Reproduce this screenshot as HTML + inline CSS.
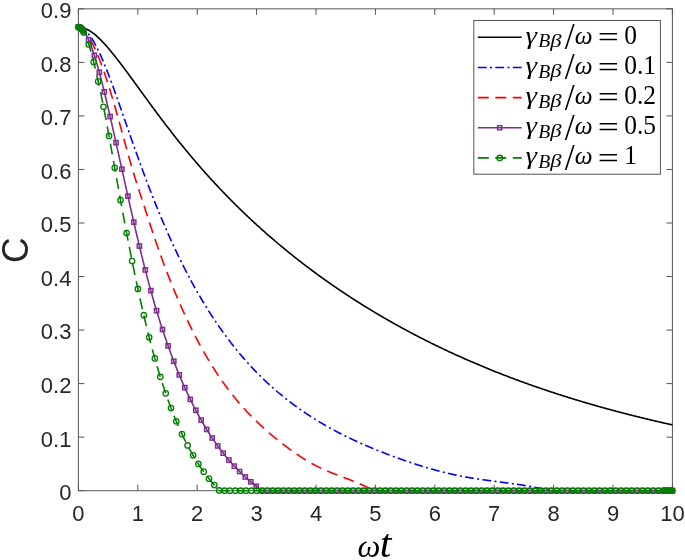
<!DOCTYPE html>
<html><head><meta charset="utf-8"><title>C vs ωt</title><style>html,body{margin:0;padding:0;background:#fff;overflow:hidden}svg{display:block}</style></head><body>
<svg width="685" height="560" viewBox="0 0 685 560">
<rect width="685" height="560" fill="#fff"/>
<rect x="78.4" y="8.84" width="594.00" height="481.86" fill="none" stroke="#555" stroke-width="1"/>
<path d="M78.40,490.7 v-6 M78.40,8.84 v6 M137.80,490.7 v-6 M137.80,8.84 v6 M197.20,490.7 v-6 M197.20,8.84 v6 M256.60,490.7 v-6 M256.60,8.84 v6 M316.00,490.7 v-6 M316.00,8.84 v6 M375.40,490.7 v-6 M375.40,8.84 v6 M434.80,490.7 v-6 M434.80,8.84 v6 M494.20,490.7 v-6 M494.20,8.84 v6 M553.60,490.7 v-6 M553.60,8.84 v6 M613.00,490.7 v-6 M613.00,8.84 v6 M672.40,490.7 v-6 M672.40,8.84 v6 M78.4,490.70 h6 M672.4,490.70 h-6 M78.4,437.16 h6 M672.4,437.16 h-6 M78.4,383.62 h6 M672.4,383.62 h-6 M78.4,330.08 h6 M672.4,330.08 h-6 M78.4,276.54 h6 M672.4,276.54 h-6 M78.4,223.00 h6 M672.4,223.00 h-6 M78.4,169.46 h6 M672.4,169.46 h-6 M78.4,115.92 h6 M672.4,115.92 h-6 M78.4,62.38 h6 M672.4,62.38 h-6 M78.4,8.84 h6 M672.4,8.84 h-6" stroke="#555" stroke-width="1" fill="none"/>
<path d="M78.40,27.04 L78.99,27.06 L79.59,27.09 L80.18,27.15 L80.78,27.23 L81.37,27.33 L81.96,27.45 L82.56,27.60 L83.15,27.76 L83.75,27.95 L84.34,28.15 L84.93,28.38 L85.53,28.62 L86.12,28.88 L86.72,29.16 L87.31,29.45 L87.90,29.77 L88.50,30.09 L89.09,30.44 L89.69,30.80 L90.28,31.18 L90.87,31.57 L91.47,31.97 L92.06,32.39 L92.66,32.83 L93.25,33.27 L93.84,33.74 L94.44,34.21 L95.03,34.69 L95.63,35.19 L96.22,35.70 L96.81,36.22 L97.41,36.76 L98.00,37.30 L98.60,37.85 L99.19,38.42 L99.78,38.99 L100.38,39.58 L100.97,40.17 L101.57,40.77 L102.16,41.39 L102.75,42.01 L103.35,42.64 L103.94,43.27 L104.54,43.92 L105.13,44.57 L105.72,45.23 L106.32,45.90 L106.91,46.57 L107.51,47.25 L108.10,47.94 L108.69,48.63 L109.29,49.33 L109.88,50.04 L110.48,50.75 L111.07,51.47 L111.66,52.19 L112.26,52.91 L112.85,53.65 L113.45,54.38 L114.04,55.13 L114.63,55.87 L115.23,56.62 L115.82,57.38 L116.42,58.13 L117.01,58.90 L117.60,59.66 L118.20,60.43 L118.79,61.20 L119.39,61.98 L119.98,62.76 L120.57,63.54 L121.17,64.32 L121.76,65.11 L122.36,65.90 L122.95,66.69 L123.54,67.48 L124.14,68.28 L124.73,69.08 L125.33,69.88 L125.92,70.68 L126.51,71.48 L127.11,72.29 L127.70,73.09 L128.30,73.90 L128.89,74.71 L129.48,75.52 L130.08,76.33 L130.67,77.14 L131.27,77.96 L131.86,78.77 L132.45,79.59 L133.05,80.40 L133.64,81.22 L134.24,82.04 L134.83,82.85 L135.42,83.67 L136.02,84.49 L136.61,85.31 L137.21,86.13 L137.80,86.94 L138.39,87.76 L138.99,88.58 L139.58,89.40 L140.18,90.22 L140.77,91.04 L141.36,91.86 L141.96,92.67 L142.55,93.49 L143.15,94.31 L143.74,95.12 L144.33,95.94 L144.93,96.76 L145.52,97.57 L146.12,98.39 L146.71,99.20 L147.30,100.01 L147.90,100.83 L148.49,101.64 L149.09,102.45 L149.68,103.26 L150.27,104.07 L150.87,104.88 L151.46,105.68 L152.06,106.49 L152.65,107.29 L153.24,108.10 L153.84,108.90 L154.43,109.70 L155.03,110.50 L155.62,111.30 L156.21,112.10 L156.81,112.90 L157.40,113.70 L158.00,114.49 L158.59,115.28 L159.18,116.08 L159.78,116.87 L160.37,117.66 L160.97,118.45 L161.56,119.23 L162.15,120.02 L162.75,120.80 L163.34,121.59 L163.94,122.37 L164.53,123.15 L165.12,123.92 L165.72,124.70 L166.31,125.48 L166.91,126.25 L167.50,127.02 L168.09,127.79 L168.69,128.56 L169.28,129.33 L169.88,130.10 L170.47,130.86 L171.06,131.63 L171.66,132.39 L172.25,133.15 L172.85,133.91 L173.44,134.66 L174.03,135.42 L174.63,136.17 L175.22,136.92 L175.82,137.67 L176.41,138.42 L177.00,139.17 L177.60,139.91 L178.19,140.66 L178.79,141.40 L179.38,142.14 L179.97,142.88 L180.57,143.61 L181.16,144.35 L181.76,145.08 L182.35,145.81 L182.94,146.54 L183.54,147.27 L184.13,148.00 L184.73,148.73 L185.32,149.45 L185.91,150.17 L186.51,150.89 L187.10,151.61 L187.70,152.33 L188.29,153.04 L188.88,153.75 L189.48,154.47 L190.07,155.18 L190.67,155.88 L191.26,156.59 L191.85,157.30 L192.45,158.00 L193.04,158.70 L193.64,159.40 L194.23,160.10 L194.82,160.79 L195.42,161.49 L196.01,162.18 L196.61,162.87 L197.20,163.56 L197.79,164.25 L198.39,164.94 L198.98,165.62 L199.58,166.31 L200.17,166.99 L200.76,167.67 L201.36,168.34 L201.95,169.02 L202.55,169.70 L203.14,170.37 L203.73,171.04 L204.33,171.71 L204.92,172.38 L205.52,173.05 L206.11,173.71 L206.70,174.37 L207.30,175.04 L207.89,175.70 L208.49,176.35 L209.08,177.01 L209.67,177.67 L210.27,178.32 L210.86,178.97 L211.46,179.62 L212.05,180.27 L212.64,180.92 L213.24,181.56 L213.83,182.21 L214.43,182.85 L215.02,183.49 L215.61,184.13 L216.21,184.77 L216.80,185.41 L217.40,186.04 L217.99,186.67 L218.58,187.31 L219.18,187.94 L219.77,188.57 L220.37,189.19 L220.96,189.82 L221.55,190.44 L222.15,191.06 L222.74,191.69 L223.34,192.31 L223.93,192.92 L224.52,193.54 L225.12,194.16 L225.71,194.77 L226.31,195.38 L226.90,195.99 L227.49,196.60 L228.09,197.21 L228.68,197.82 L229.28,198.42 L229.87,199.02 L230.46,199.63 L231.06,200.23 L231.65,200.83 L232.25,201.42 L232.84,202.02 L233.43,202.61 L234.03,203.21 L234.62,203.80 L235.22,204.39 L235.81,204.98 L236.40,205.57 L237.00,206.15 L237.59,206.74 L238.19,207.32 L238.78,207.90 L239.37,208.48 L239.97,209.06 L240.56,209.64 L241.16,210.22 L241.75,210.79 L242.34,211.37 L242.94,211.94 L243.53,212.51 L244.13,213.08 L244.72,213.65 L245.31,214.22 L245.91,214.78 L246.50,215.35 L247.10,215.91 L247.69,216.47 L248.28,217.04 L248.88,217.60 L249.47,218.15 L250.07,218.71 L250.66,219.27 L251.25,219.82 L251.85,220.37 L252.44,220.92 L253.04,221.48 L253.63,222.02 L254.22,222.57 L254.82,223.12 L255.41,223.66 L256.01,224.21 L256.60,224.75 L257.19,225.29 L257.79,225.83 L258.38,226.37 L258.98,226.91 L259.57,227.45 L260.16,227.98 L260.76,228.52 L261.35,229.05 L261.95,229.58 L262.54,230.11 L263.13,230.64 L263.73,231.17 L264.32,231.70 L264.92,232.22 L265.51,232.75 L266.10,233.27 L266.70,233.79 L267.29,234.32 L267.89,234.84 L268.48,235.35 L269.07,235.87 L269.67,236.39 L270.26,236.90 L270.86,237.42 L271.45,237.93 L272.04,238.44 L272.64,238.95 L273.23,239.46 L273.83,239.97 L274.42,240.48 L275.01,240.99 L275.61,241.49 L276.20,242.00 L276.80,242.50 L277.39,243.00 L277.98,243.50 L278.58,244.00 L279.17,244.50 L279.77,245.00 L280.36,245.49 L280.95,245.99 L281.55,246.48 L282.14,246.97 L282.74,247.47 L283.33,247.96 L283.92,248.45 L284.52,248.94 L285.11,249.42 L285.71,249.91 L286.30,250.40 L286.89,250.88 L287.49,251.36 L288.08,251.85 L288.68,252.33 L289.27,252.81 L289.86,253.29 L290.46,253.76 L291.05,254.24 L291.65,254.72 L292.24,255.19 L292.83,255.67 L293.43,256.14 L294.02,256.61 L294.62,257.08 L295.21,257.55 L295.80,258.02 L296.40,258.49 L296.99,258.96 L297.59,259.42 L298.18,259.89 L298.77,260.35 L299.37,260.82 L299.96,261.28 L300.56,261.74 L301.15,262.20 L301.74,262.66 L302.34,263.12 L302.93,263.57 L303.53,264.03 L304.12,264.48 L304.71,264.94 L305.31,265.39 L305.90,265.84 L306.50,266.29 L307.09,266.74 L307.68,267.19 L308.28,267.64 L308.87,268.09 L309.47,268.54 L310.06,268.98 L310.65,269.43 L311.25,269.87 L311.84,270.31 L312.44,270.75 L313.03,271.20 L313.62,271.64 L314.22,272.07 L314.81,272.51 L315.41,272.95 L316.00,273.39 L316.59,273.82 L317.19,274.26 L317.78,274.69 L318.38,275.12 L318.97,275.55 L319.56,275.98 L320.16,276.41 L320.75,276.84 L321.35,277.27 L321.94,277.70 L322.53,278.12 L323.13,278.55 L323.72,278.97 L324.32,279.40 L324.91,279.82 L325.50,280.24 L326.10,280.66 L326.69,281.08 L327.29,281.50 L327.88,281.92 L328.47,282.34 L329.07,282.76 L329.66,283.17 L330.26,283.59 L330.85,284.00 L331.44,284.41 L332.04,284.83 L332.63,285.24 L333.23,285.65 L333.82,286.06 L334.41,286.47 L335.01,286.87 L335.60,287.28 L336.20,287.69 L336.79,288.09 L337.38,288.50 L337.98,288.90 L338.57,289.31 L339.17,289.71 L339.76,290.11 L340.35,290.51 L340.95,290.91 L341.54,291.31 L342.14,291.71 L342.73,292.10 L343.32,292.50 L343.92,292.90 L344.51,293.29 L345.11,293.68 L345.70,294.08 L346.29,294.47 L346.89,294.86 L347.48,295.25 L348.08,295.64 L348.67,296.03 L349.26,296.42 L349.86,296.81 L350.45,297.19 L351.05,297.58 L351.64,297.97 L352.23,298.35 L352.83,298.73 L353.42,299.12 L354.02,299.50 L354.61,299.88 L355.20,300.26 L355.80,300.64 L356.39,301.02 L356.99,301.40 L357.58,301.78 L358.17,302.15 L358.77,302.53 L359.36,302.90 L359.96,303.28 L360.55,303.65 L361.14,304.02 L361.74,304.40 L362.33,304.77 L362.93,305.14 L363.52,305.51 L364.11,305.88 L364.71,306.25 L365.30,306.61 L365.90,306.98 L366.49,307.35 L367.08,307.71 L367.68,308.08 L368.27,308.44 L368.87,308.80 L369.46,309.17 L370.05,309.53 L370.65,309.89 L371.24,310.25 L371.84,310.61 L372.43,310.97 L373.02,311.32 L373.62,311.68 L374.21,312.04 L374.81,312.39 L375.40,312.75 L375.99,313.10 L376.59,313.46 L377.18,313.81 L377.78,314.16 L378.37,314.51 L378.96,314.86 L379.56,315.21 L380.15,315.56 L380.75,315.91 L381.34,316.26 L381.93,316.61 L382.53,316.95 L383.12,317.30 L383.72,317.65 L384.31,317.99 L384.90,318.33 L385.50,318.68 L386.09,319.02 L386.69,319.36 L387.28,319.70 L387.87,320.04 L388.47,320.38 L389.06,320.72 L389.66,321.06 L390.25,321.40 L390.84,321.73 L391.44,322.07 L392.03,322.41 L392.63,322.74 L393.22,323.08 L393.81,323.41 L394.41,323.74 L395.00,324.07 L395.60,324.41 L396.19,324.74 L396.78,325.07 L397.38,325.40 L397.97,325.73 L398.57,326.05 L399.16,326.38 L399.75,326.71 L400.35,327.03 L400.94,327.36 L401.54,327.68 L402.13,328.01 L402.72,328.33 L403.32,328.66 L403.91,328.98 L404.51,329.30 L405.10,329.62 L405.69,329.94 L406.29,330.26 L406.88,330.58 L407.48,330.90 L408.07,331.22 L408.66,331.53 L409.26,331.85 L409.85,332.17 L410.45,332.48 L411.04,332.80 L411.63,333.11 L412.23,333.42 L412.82,333.74 L413.42,334.05 L414.01,334.36 L414.60,334.67 L415.20,334.98 L415.79,335.29 L416.39,335.60 L416.98,335.91 L417.57,336.22 L418.17,336.52 L418.76,336.83 L419.36,337.14 L419.95,337.44 L420.54,337.75 L421.14,338.05 L421.73,338.35 L422.33,338.66 L422.92,338.96 L423.51,339.26 L424.11,339.56 L424.70,339.86 L425.30,340.16 L425.89,340.46 L426.48,340.76 L427.08,341.06 L427.67,341.36 L428.27,341.65 L428.86,341.95 L429.45,342.25 L430.05,342.54 L430.64,342.84 L431.24,343.13 L431.83,343.42 L432.42,343.72 L433.02,344.01 L433.61,344.30 L434.21,344.59 L434.80,344.88 L435.39,345.17 L435.99,345.46 L436.58,345.75 L437.18,346.04 L437.77,346.32 L438.36,346.61 L438.96,346.90 L439.55,347.18 L440.15,347.47 L440.74,347.75 L441.33,348.04 L441.93,348.32 L442.52,348.60 L443.12,348.89 L443.71,349.17 L444.30,349.45 L444.90,349.73 L445.49,350.01 L446.09,350.29 L446.68,350.57 L447.27,350.85 L447.87,351.13 L448.46,351.40 L449.06,351.68 L449.65,351.96 L450.24,352.23 L450.84,352.51 L451.43,352.78 L452.03,353.06 L452.62,353.33 L453.21,353.60 L453.81,353.88 L454.40,354.15 L455.00,354.42 L455.59,354.69 L456.18,354.96 L456.78,355.23 L457.37,355.50 L457.97,355.77 L458.56,356.04 L459.15,356.30 L459.75,356.57 L460.34,356.84 L460.94,357.10 L461.53,357.37 L462.12,357.63 L462.72,357.90 L463.31,358.16 L463.91,358.43 L464.50,358.69 L465.09,358.95 L465.69,359.21 L466.28,359.47 L466.88,359.73 L467.47,360.00 L468.06,360.25 L468.66,360.51 L469.25,360.77 L469.85,361.03 L470.44,361.29 L471.03,361.55 L471.63,361.80 L472.22,362.06 L472.82,362.31 L473.41,362.57 L474.00,362.82 L474.60,363.08 L475.19,363.33 L475.79,363.58 L476.38,363.84 L476.97,364.09 L477.57,364.34 L478.16,364.59 L478.76,364.84 L479.35,365.09 L479.94,365.34 L480.54,365.59 L481.13,365.84 L481.73,366.09 L482.32,366.34 L482.91,366.58 L483.51,366.83 L484.10,367.08 L484.70,367.32 L485.29,367.57 L485.88,367.81 L486.48,368.06 L487.07,368.30 L487.67,368.54 L488.26,368.79 L488.85,369.03 L489.45,369.27 L490.04,369.51 L490.64,369.75 L491.23,369.99 L491.82,370.23 L492.42,370.47 L493.01,370.71 L493.61,370.95 L494.20,371.19 L494.79,371.42 L495.39,371.66 L495.98,371.90 L496.58,372.13 L497.17,372.37 L497.76,372.60 L498.36,372.84 L498.95,373.07 L499.55,373.31 L500.14,373.54 L500.73,373.77 L501.33,374.00 L501.92,374.24 L502.52,374.47 L503.11,374.70 L503.70,374.93 L504.30,375.16 L504.89,375.39 L505.49,375.62 L506.08,375.85 L506.67,376.07 L507.27,376.30 L507.86,376.53 L508.46,376.76 L509.05,376.98 L509.64,377.21 L510.24,377.43 L510.83,377.66 L511.43,377.88 L512.02,378.11 L512.61,378.33 L513.21,378.56 L513.80,378.78 L514.40,379.00 L514.99,379.22 L515.58,379.44 L516.18,379.67 L516.77,379.89 L517.37,380.11 L517.96,380.33 L518.55,380.54 L519.15,380.76 L519.74,380.98 L520.34,381.20 L520.93,381.42 L521.52,381.63 L522.12,381.85 L522.71,382.07 L523.31,382.28 L523.90,382.50 L524.49,382.71 L525.09,382.93 L525.68,383.14 L526.28,383.36 L526.87,383.57 L527.46,383.78 L528.06,383.99 L528.65,384.21 L529.25,384.42 L529.84,384.63 L530.43,384.84 L531.03,385.05 L531.62,385.26 L532.22,385.47 L532.81,385.68 L533.40,385.89 L534.00,386.10 L534.59,386.30 L535.19,386.51 L535.78,386.72 L536.37,386.92 L536.97,387.13 L537.56,387.34 L538.16,387.54 L538.75,387.75 L539.34,387.95 L539.94,388.16 L540.53,388.36 L541.13,388.56 L541.72,388.77 L542.31,388.97 L542.91,389.17 L543.50,389.37 L544.10,389.57 L544.69,389.77 L545.28,389.97 L545.88,390.17 L546.47,390.37 L547.07,390.57 L547.66,390.77 L548.25,390.97 L548.85,391.17 L549.44,391.37 L550.04,391.56 L550.63,391.76 L551.22,391.96 L551.82,392.15 L552.41,392.35 L553.01,392.55 L553.60,392.74 L554.19,392.94 L554.79,393.13 L555.38,393.32 L555.98,393.52 L556.57,393.71 L557.16,393.90 L557.76,394.09 L558.35,394.29 L558.95,394.48 L559.54,394.67 L560.13,394.86 L560.73,395.05 L561.32,395.24 L561.92,395.43 L562.51,395.62 L563.10,395.81 L563.70,396.00 L564.29,396.19 L564.89,396.37 L565.48,396.56 L566.07,396.75 L566.67,396.93 L567.26,397.12 L567.86,397.31 L568.45,397.49 L569.04,397.68 L569.64,397.86 L570.23,398.05 L570.83,398.23 L571.42,398.41 L572.01,398.60 L572.61,398.78 L573.20,398.96 L573.80,399.15 L574.39,399.33 L574.98,399.51 L575.58,399.69 L576.17,399.87 L576.77,400.05 L577.36,400.23 L577.95,400.41 L578.55,400.59 L579.14,400.77 L579.74,400.95 L580.33,401.13 L580.92,401.30 L581.52,401.48 L582.11,401.66 L582.71,401.84 L583.30,402.01 L583.89,402.19 L584.49,402.36 L585.08,402.54 L585.68,402.71 L586.27,402.89 L586.86,403.06 L587.46,403.24 L588.05,403.41 L588.65,403.59 L589.24,403.76 L589.83,403.93 L590.43,404.10 L591.02,404.28 L591.62,404.45 L592.21,404.62 L592.80,404.79 L593.40,404.96 L593.99,405.13 L594.59,405.30 L595.18,405.47 L595.77,405.64 L596.37,405.81 L596.96,405.98 L597.56,406.15 L598.15,406.31 L598.74,406.48 L599.34,406.65 L599.93,406.82 L600.53,406.98 L601.12,407.15 L601.71,407.31 L602.31,407.48 L602.90,407.65 L603.50,407.81 L604.09,407.98 L604.68,408.14 L605.28,408.30 L605.87,408.47 L606.47,408.63 L607.06,408.79 L607.65,408.96 L608.25,409.12 L608.84,409.28 L609.44,409.44 L610.03,409.60 L610.62,409.77 L611.22,409.93 L611.81,410.09 L612.41,410.25 L613.00,410.41 L613.59,410.57 L614.19,410.73 L614.78,410.88 L615.38,411.04 L615.97,411.20 L616.56,411.36 L617.16,411.52 L617.75,411.67 L618.35,411.83 L618.94,411.99 L619.53,412.14 L620.13,412.30 L620.72,412.46 L621.32,412.61 L621.91,412.77 L622.50,412.92 L623.10,413.08 L623.69,413.23 L624.29,413.38 L624.88,413.54 L625.47,413.69 L626.07,413.84 L626.66,414.00 L627.26,414.15 L627.85,414.30 L628.44,414.45 L629.04,414.60 L629.63,414.75 L630.23,414.91 L630.82,415.06 L631.41,415.21 L632.01,415.36 L632.60,415.51 L633.20,415.66 L633.79,415.80 L634.38,415.95 L634.98,416.10 L635.57,416.25 L636.17,416.40 L636.76,416.55 L637.35,416.69 L637.95,416.84 L638.54,416.99 L639.14,417.13 L639.73,417.28 L640.32,417.43 L640.92,417.57 L641.51,417.72 L642.11,417.86 L642.70,418.01 L643.29,418.15 L643.89,418.29 L644.48,418.44 L645.08,418.58 L645.67,418.73 L646.26,418.87 L646.86,419.01 L647.45,419.15 L648.05,419.30 L648.64,419.44 L649.23,419.58 L649.83,419.72 L650.42,419.86 L651.02,420.00 L651.61,420.14 L652.20,420.28 L652.80,420.42 L653.39,420.56 L653.99,420.70 L654.58,420.84 L655.17,420.98 L655.77,421.12 L656.36,421.26 L656.96,421.39 L657.55,421.53 L658.14,421.67 L658.74,421.81 L659.33,421.94 L659.93,422.08 L660.52,422.22 L661.11,422.35 L661.71,422.49 L662.30,422.62 L662.90,422.76 L663.49,422.89 L664.08,423.03 L664.68,423.16 L665.27,423.30 L665.87,423.43 L666.46,423.56 L667.05,423.70 L667.65,423.83 L668.24,423.96 L668.84,424.10 L669.43,424.23 L670.02,424.36 L670.62,424.49 L671.21,424.62 L671.81,424.76 L672.40,424.89" fill="none" stroke="#000" stroke-width="1.6" stroke-linejoin="round"/>
<path d="M78.40,27.04 L78.99,27.11 L79.59,27.22 L80.18,27.37 L80.78,27.58 L81.37,27.82 L81.96,28.11 L82.56,28.44 L83.15,28.82 L83.75,29.23 L84.34,29.69 L84.93,30.19 L85.53,30.72 L86.12,31.30 L86.72,31.91 L87.31,32.56 L87.90,33.25 L88.50,33.97 L89.09,34.73 L89.69,35.52 L90.28,36.34 L90.87,37.20 L91.47,38.09 L92.06,39.02 L92.66,39.97 L93.25,40.95 L93.84,41.97 L94.44,43.01 L95.03,44.08 L95.63,45.18 L96.22,46.30 L96.81,47.46 L97.41,48.63 L98.00,49.83 L98.60,51.06 L99.19,52.31 L99.78,53.58 L100.38,54.87 L100.97,56.19 L101.57,57.52 L102.16,58.88 L102.75,60.26 L103.35,61.65 L103.94,63.07 L104.54,64.50 L105.13,65.95 L105.72,67.42 L106.32,68.90 L106.91,70.40 L107.51,71.92 L108.10,73.44 L108.69,74.99 L109.29,76.55 L109.88,78.12 L110.48,79.70 L111.07,81.29 L111.66,82.90 L112.26,84.52 L112.85,86.14 L113.45,87.78 L114.04,89.43 L114.63,91.08 L115.23,92.74 L115.82,94.41 L116.42,96.09 L117.01,97.77 L117.60,99.45 L118.20,101.15 L118.79,102.84 L119.39,104.54 L119.98,106.25 L120.57,107.95 L121.17,109.66 L121.76,111.37 L122.36,113.08 L122.95,114.79 L123.54,116.50 L124.14,118.21 L124.73,119.92 L125.33,121.63 L125.92,123.33 L126.51,125.04 L127.11,126.75 L127.70,128.45 L128.30,130.15 L128.89,131.85 L129.48,133.55 L130.08,135.24 L130.67,136.93 L131.27,138.62 L131.86,140.31 L132.45,142.00 L133.05,143.68 L133.64,145.36 L134.24,147.03 L134.83,148.70 L135.42,150.37 L136.02,152.04 L136.61,153.70 L137.21,155.35 L137.80,157.01 L138.39,158.65 L138.99,160.30 L139.58,161.94 L140.18,163.57 L140.77,165.20 L141.36,166.82 L141.96,168.44 L142.55,170.06 L143.15,171.66 L143.74,173.27 L144.33,174.86 L144.93,176.46 L145.52,178.04 L146.12,179.62 L146.71,181.20 L147.30,182.76 L147.90,184.33 L148.49,185.88 L149.09,187.43 L149.68,188.98 L150.27,190.52 L150.87,192.05 L151.46,193.58 L152.06,195.10 L152.65,196.62 L153.24,198.13 L153.84,199.63 L154.43,201.12 L155.03,202.61 L155.62,204.10 L156.21,205.58 L156.81,207.05 L157.40,208.51 L158.00,209.97 L158.59,211.42 L159.18,212.87 L159.78,214.31 L160.37,215.74 L160.97,217.17 L161.56,218.59 L162.15,220.00 L162.75,221.41 L163.34,222.81 L163.94,224.20 L164.53,225.59 L165.12,226.96 L165.72,228.34 L166.31,229.70 L166.91,231.06 L167.50,232.41 L168.09,233.76 L168.69,235.09 L169.28,236.43 L169.88,237.75 L170.47,239.07 L171.06,240.38 L171.66,241.68 L172.25,242.98 L172.85,244.27 L173.44,245.56 L174.03,246.84 L174.63,248.11 L175.22,249.37 L175.82,250.63 L176.41,251.88 L177.00,253.13 L177.60,254.37 L178.19,255.60 L178.79,256.83 L179.38,258.05 L179.97,259.26 L180.57,260.47 L181.16,261.67 L181.76,262.87 L182.35,264.06 L182.94,265.24 L183.54,266.42 L184.13,267.59 L184.73,268.75 L185.32,269.91 L185.91,271.06 L186.51,272.21 L187.10,273.35 L187.70,274.48 L188.29,275.61 L188.88,276.73 L189.48,277.85 L190.07,278.96 L190.67,280.07 L191.26,281.17 L191.85,282.26 L192.45,283.35 L193.04,284.43 L193.64,285.51 L194.23,286.58 L194.82,287.64 L195.42,288.70 L196.01,289.75 L196.61,290.80 L197.20,291.84 L197.79,292.88 L198.39,293.91 L198.98,294.94 L199.58,295.96 L200.17,296.97 L200.76,297.98 L201.36,298.99 L201.95,299.99 L202.55,300.98 L203.14,301.97 L203.73,302.95 L204.33,303.93 L204.92,304.90 L205.52,305.87 L206.11,306.83 L206.70,307.79 L207.30,308.74 L207.89,309.69 L208.49,310.63 L209.08,311.56 L209.67,312.50 L210.27,313.42 L210.86,314.34 L211.46,315.26 L212.05,316.17 L212.64,317.08 L213.24,317.98 L213.83,318.88 L214.43,319.77 L215.02,320.66 L215.61,321.54 L216.21,322.42 L216.80,323.29 L217.40,324.16 L217.99,325.03 L218.58,325.88 L219.18,326.74 L219.77,327.59 L220.37,328.43 L220.96,329.28 L221.55,330.11 L222.15,330.94 L222.74,331.77 L223.34,332.59 L223.93,333.41 L224.52,334.23 L225.12,335.04 L225.71,335.84 L226.31,336.64 L226.90,337.44 L227.49,338.23 L228.09,339.02 L228.68,339.81 L229.28,340.59 L229.87,341.36 L230.46,342.13 L231.06,342.90 L231.65,343.66 L232.25,344.42 L232.84,345.18 L233.43,345.93 L234.03,346.68 L234.62,347.42 L235.22,348.16 L235.81,348.90 L236.40,349.63 L237.00,350.36 L237.59,351.08 L238.19,351.80 L238.78,352.52 L239.37,353.23 L239.97,353.94 L240.56,354.64 L241.16,355.35 L241.75,356.04 L242.34,356.74 L242.94,357.43 L243.53,358.11 L244.13,358.80 L244.72,359.47 L245.31,360.15 L245.91,360.82 L246.50,361.49 L247.10,362.16 L247.69,362.82 L248.28,363.47 L248.88,364.13 L249.47,364.78 L250.07,365.43 L250.66,366.07 L251.25,366.71 L251.85,367.35 L252.44,367.98 L253.04,368.61 L253.63,369.24 L254.22,369.86 L254.82,370.48 L255.41,371.10 L256.01,371.71 L256.60,372.32 L257.19,372.93 L257.79,373.53 L258.38,374.13 L258.98,374.73 L259.57,375.32 L260.16,375.91 L260.76,376.50 L261.35,377.09 L261.95,377.67 L262.54,378.25 L263.13,378.82 L263.73,379.39 L264.32,379.96 L264.92,380.53 L265.51,381.09 L266.10,381.65 L266.70,382.21 L267.29,382.76 L267.89,383.31 L268.48,383.86 L269.07,384.41 L269.67,384.95 L270.26,385.49 L270.86,386.03 L271.45,386.56 L272.04,387.09 L272.64,387.62 L273.23,388.15 L273.83,388.67 L274.42,389.19 L275.01,389.71 L275.61,390.22 L276.20,390.73 L276.80,391.24 L277.39,391.75 L277.98,392.25 L278.58,392.75 L279.17,393.25 L279.77,393.75 L280.36,394.24 L280.95,394.73 L281.55,395.22 L282.14,395.71 L282.74,396.19 L283.33,396.67 L283.92,397.15 L284.52,397.63 L285.11,398.10 L285.71,398.57 L286.30,399.04 L286.89,399.51 L287.49,399.97 L288.08,400.43 L288.68,400.89 L289.27,401.35 L289.86,401.80 L290.46,402.26 L291.05,402.71 L291.65,403.16 L292.24,403.60 L292.83,404.05 L293.43,404.49 L294.02,404.93 L294.62,405.37 L295.21,405.80 L295.80,406.23 L296.40,406.67 L296.99,407.09 L297.59,407.52 L298.18,407.95 L298.77,408.37 L299.37,408.79 L299.96,409.21 L300.56,409.63 L301.15,410.04 L301.74,410.46 L302.34,410.87 L302.93,411.28 L303.53,411.68 L304.12,412.09 L304.71,412.49 L305.31,412.89 L305.90,413.29 L306.50,413.69 L307.09,414.09 L307.68,414.48 L308.28,414.87 L308.87,415.26 L309.47,415.65 L310.06,416.04 L310.65,416.42 L311.25,416.80 L311.84,417.19 L312.44,417.56 L313.03,417.94 L313.62,418.32 L314.22,418.69 L314.81,419.06 L315.41,419.43 L316.00,419.80 L316.59,420.17 L317.19,420.53 L317.78,420.90 L318.38,421.26 L318.97,421.62 L319.56,421.98 L320.16,422.33 L320.75,422.69 L321.35,423.04 L321.94,423.39 L322.53,423.74 L323.13,424.09 L323.72,424.44 L324.32,424.79 L324.91,425.13 L325.50,425.47 L326.10,425.81 L326.69,426.15 L327.29,426.49 L327.88,426.82 L328.47,427.16 L329.07,427.49 L329.66,427.82 L330.26,428.15 L330.85,428.48 L331.44,428.81 L332.04,429.13 L332.63,429.45 L333.23,429.78 L333.82,430.10 L334.41,430.42 L335.01,430.73 L335.60,431.05 L336.20,431.36 L336.79,431.68 L337.38,431.99 L337.98,432.30 L338.57,432.61 L339.17,432.92 L339.76,433.23 L340.35,433.53 L340.95,433.83 L341.54,434.14 L342.14,434.44 L342.73,434.74 L343.32,435.04 L343.92,435.33 L344.51,435.63 L345.11,435.92 L345.70,436.22 L346.29,436.51 L346.89,436.80 L347.48,437.09 L348.08,437.38 L348.67,437.67 L349.26,437.95 L349.86,438.24 L350.45,438.52 L351.05,438.80 L351.64,439.08 L352.23,439.36 L352.83,439.64 L353.42,439.92 L354.02,440.20 L354.61,440.47 L355.20,440.75 L355.80,441.02 L356.39,441.29 L356.99,441.56 L357.58,441.83 L358.17,442.10 L358.77,442.37 L359.36,442.64 L359.96,442.90 L360.55,443.17 L361.14,443.43 L361.74,443.69 L362.33,443.95 L362.93,444.22 L363.52,444.47 L364.11,444.73 L364.71,444.99 L365.30,445.25 L365.90,445.50 L366.49,445.76 L367.08,446.01 L367.68,446.26 L368.27,446.52 L368.87,446.77 L369.46,447.02 L370.05,447.27 L370.65,447.52 L371.24,447.76 L371.84,448.01 L372.43,448.26 L373.02,448.50 L373.62,448.75 L374.21,448.99 L374.81,449.23 L375.40,449.47 L375.99,449.71 L376.59,449.95 L377.18,450.19 L377.78,450.43 L378.37,450.67 L378.96,450.91 L379.56,451.14 L380.15,451.38 L380.75,451.61 L381.34,451.85 L381.93,452.08 L382.53,452.32 L383.12,452.55 L383.72,452.78 L384.31,453.01 L384.90,453.24 L385.50,453.47 L386.09,453.70 L386.69,453.93 L387.28,454.15 L387.87,454.38 L388.47,454.61 L389.06,454.83 L389.66,455.06 L390.25,455.28 L390.84,455.51 L391.44,455.73 L392.03,455.95 L392.63,456.17 L393.22,456.39 L393.81,456.62 L394.41,456.83 L395.00,457.05 L395.60,457.27 L396.19,457.49 L396.78,457.71 L397.38,457.92 L397.97,458.14 L398.57,458.35 L399.16,458.57 L399.75,458.78 L400.35,458.99 L400.94,459.20 L401.54,459.41 L402.13,459.62 L402.72,459.83 L403.32,460.04 L403.91,460.25 L404.51,460.46 L405.10,460.66 L405.69,460.87 L406.29,461.07 L406.88,461.28 L407.48,461.48 L408.07,461.68 L408.66,461.89 L409.26,462.09 L409.85,462.29 L410.45,462.49 L411.04,462.69 L411.63,462.88 L412.23,463.08 L412.82,463.28 L413.42,463.47 L414.01,463.67 L414.60,463.86 L415.20,464.05 L415.79,464.24 L416.39,464.44 L416.98,464.63 L417.57,464.82 L418.17,465.00 L418.76,465.19 L419.36,465.38 L419.95,465.57 L420.54,465.75 L421.14,465.93 L421.73,466.12 L422.33,466.30 L422.92,466.48 L423.51,466.66 L424.11,466.84 L424.70,467.02 L425.30,467.20 L425.89,467.38 L426.48,467.55 L427.08,467.73 L427.67,467.90 L428.27,468.08 L428.86,468.25 L429.45,468.42 L430.05,468.59 L430.64,468.76 L431.24,468.93 L431.83,469.10 L432.42,469.27 L433.02,469.43 L433.61,469.60 L434.21,469.76 L434.80,469.93 L435.39,470.09 L435.99,470.25 L436.58,470.41 L437.18,470.57 L437.77,470.73 L438.36,470.89 L438.96,471.04 L439.55,471.20 L440.15,471.35 L440.74,471.51 L441.33,471.66 L441.93,471.81 L442.52,471.96 L443.12,472.11 L443.71,472.26 L444.30,472.41 L444.90,472.56 L445.49,472.70 L446.09,472.85 L446.68,472.99 L447.27,473.13 L447.87,473.27 L448.46,473.41 L449.06,473.55 L449.65,473.69 L450.24,473.83 L450.84,473.97 L451.43,474.10 L452.03,474.23 L452.62,474.37 L453.21,474.50 L453.81,474.63 L454.40,474.76 L455.00,474.89 L455.59,475.02 L456.18,475.14 L456.78,475.27 L457.37,475.39 L457.97,475.52 L458.56,475.64 L459.15,475.76 L459.75,475.88 L460.34,476.00 L460.94,476.12 L461.53,476.23 L462.12,476.35 L462.72,476.46 L463.31,476.57 L463.91,476.69 L464.50,476.80 L465.09,476.91 L465.69,477.02 L466.28,477.12 L466.88,477.23 L467.47,477.33 L468.06,477.44 L468.66,477.54 L469.25,477.64 L469.85,477.74 L470.44,477.84 L471.03,477.94 L471.63,478.04 L472.22,478.14 L472.82,478.23 L473.41,478.33 L474.00,478.42 L474.60,478.52 L475.19,478.61 L475.79,478.70 L476.38,478.79 L476.97,478.88 L477.57,478.97 L478.16,479.06 L478.76,479.15 L479.35,479.24 L479.94,479.32 L480.54,479.41 L481.13,479.49 L481.73,479.58 L482.32,479.66 L482.91,479.75 L483.51,479.83 L484.10,479.91 L484.70,479.99 L485.29,480.07 L485.88,480.16 L486.48,480.24 L487.07,480.32 L487.67,480.40 L488.26,480.48 L488.85,480.55 L489.45,480.63 L490.04,480.71 L490.64,480.79 L491.23,480.87 L491.82,480.95 L492.42,481.02 L493.01,481.10 L493.61,481.18 L494.20,481.25 L494.79,481.33 L495.39,481.41 L495.98,481.48 L496.58,481.56 L497.17,481.64 L497.76,481.71 L498.36,481.79 L498.95,481.86 L499.55,481.94 L500.14,482.02 L500.73,482.09 L501.33,482.17 L501.92,482.25 L502.52,482.32 L503.11,482.40 L503.70,482.48 L504.30,482.55 L504.89,482.63 L505.49,482.71 L506.08,482.79 L506.67,482.87 L507.27,482.94 L507.86,483.02 L508.46,483.10 L509.05,483.18 L509.64,483.26 L510.24,483.34 L510.83,483.42 L511.43,483.51 L512.02,483.59 L512.61,483.67 L513.21,483.75 L513.80,483.83 L514.40,483.92 L514.99,484.00 L515.58,484.09 L516.18,484.17 L516.77,484.26 L517.37,484.35 L517.96,484.43 L518.55,484.52 L519.15,484.61 L519.74,484.70 L520.34,484.79 L520.93,484.88 L521.52,484.98 L522.12,485.07 L522.71,485.16 L523.31,485.26 L523.90,485.35 L524.49,485.45 L525.09,485.55 L525.68,485.64 L526.28,485.74 L526.87,485.84 L527.46,485.95 L528.06,486.05 L528.65,486.15 L529.25,486.26 L529.84,486.36 L530.43,486.47 L531.03,486.58 L531.62,486.69 L532.22,486.80 L532.81,486.91 L533.40,487.02 L534.00,487.13 L534.59,487.25 L535.19,487.37 L535.78,487.48 L536.37,487.60 L536.97,487.72 L537.56,487.84 L538.16,487.97 L538.75,488.09 L539.34,488.22 L539.94,488.35 L540.53,488.48 L541.13,488.61 L541.72,488.74 L542.31,488.87 L542.91,489.01 L543.50,489.14 L544.10,489.28 L544.69,489.42 L545.28,489.56 L545.88,489.71 L546.47,489.85 L547.07,490.00 L547.66,490.15 L548.25,490.30 L548.85,490.45 L549.44,490.60 L550.04,490.70 L550.63,490.70 L551.22,490.70 L551.82,490.70 L552.41,490.70 L553.01,490.70 L553.60,490.70 L554.19,490.70 L554.79,490.70 L555.38,490.70 L555.98,490.70 L556.57,490.70 L557.16,490.70 L557.76,490.70 L558.35,490.70 L558.95,490.70 L559.54,490.70 L560.13,490.70 L560.73,490.70 L561.32,490.70 L561.92,490.70 L562.51,490.70 L563.10,490.70 L563.70,490.70 L564.29,490.70 L564.89,490.70 L565.48,490.70 L566.07,490.70 L566.67,490.70 L567.26,490.70 L567.86,490.70 L568.45,490.70 L569.04,490.70 L569.64,490.70 L570.23,490.70 L570.83,490.70 L571.42,490.70 L572.01,490.70 L572.61,490.70 L573.20,490.70 L573.80,490.70 L574.39,490.70 L574.98,490.70 L575.58,490.70 L576.17,490.70 L576.77,490.70 L577.36,490.70 L577.95,490.70 L578.55,490.70 L579.14,490.70 L579.74,490.70 L580.33,490.70 L580.92,490.70 L581.52,490.70 L582.11,490.70 L582.71,490.70 L583.30,490.70 L583.89,490.70 L584.49,490.70 L585.08,490.70 L585.68,490.70 L586.27,490.70 L586.86,490.70 L587.46,490.70 L588.05,490.70 L588.65,490.70 L589.24,490.70 L589.83,490.70 L590.43,490.70 L591.02,490.70 L591.62,490.70 L592.21,490.70 L592.80,490.70 L593.40,490.70 L593.99,490.70 L594.59,490.70 L595.18,490.70 L595.77,490.70 L596.37,490.70 L596.96,490.70 L597.56,490.70 L598.15,490.70 L598.74,490.70 L599.34,490.70 L599.93,490.70 L600.53,490.70 L601.12,490.70 L601.71,490.70 L602.31,490.70 L602.90,490.70 L603.50,490.70 L604.09,490.70 L604.68,490.70 L605.28,490.70 L605.87,490.70 L606.47,490.70 L607.06,490.70 L607.65,490.70 L608.25,490.70 L608.84,490.70 L609.44,490.70 L610.03,490.70 L610.62,490.70 L611.22,490.70 L611.81,490.70 L612.41,490.70 L613.00,490.70 L613.59,490.70 L614.19,490.70 L614.78,490.70 L615.38,490.70 L615.97,490.70 L616.56,490.70 L617.16,490.70 L617.75,490.70 L618.35,490.70 L618.94,490.70 L619.53,490.70 L620.13,490.70 L620.72,490.70 L621.32,490.70 L621.91,490.70 L622.50,490.70 L623.10,490.70 L623.69,490.70 L624.29,490.70 L624.88,490.70 L625.47,490.70 L626.07,490.70 L626.66,490.70 L627.26,490.70 L627.85,490.70 L628.44,490.70 L629.04,490.70 L629.63,490.70 L630.23,490.70 L630.82,490.70 L631.41,490.70 L632.01,490.70 L632.60,490.70 L633.20,490.70 L633.79,490.70 L634.38,490.70 L634.98,490.70 L635.57,490.70 L636.17,490.70 L636.76,490.70 L637.35,490.70 L637.95,490.70 L638.54,490.70 L639.14,490.70 L639.73,490.70 L640.32,490.70 L640.92,490.70 L641.51,490.70 L642.11,490.70 L642.70,490.70 L643.29,490.70 L643.89,490.70 L644.48,490.70 L645.08,490.70 L645.67,490.70 L646.26,490.70 L646.86,490.70 L647.45,490.70 L648.05,490.70 L648.64,490.70 L649.23,490.70 L649.83,490.70 L650.42,490.70 L651.02,490.70 L651.61,490.70 L652.20,490.70 L652.80,490.70 L653.39,490.70 L653.99,490.70 L654.58,490.70 L655.17,490.70 L655.77,490.70 L656.36,490.70 L656.96,490.70 L657.55,490.70 L658.14,490.70 L658.74,490.70 L659.33,490.70 L659.93,490.70 L660.52,490.70 L661.11,490.70 L661.71,490.70 L662.30,490.70 L662.90,490.70 L663.49,490.70 L664.08,490.70 L664.68,490.70 L665.27,490.70 L665.87,490.70 L666.46,490.70 L667.05,490.70 L667.65,490.70 L668.24,490.70 L668.84,490.70 L669.43,490.70 L670.02,490.70 L670.62,490.70 L671.21,490.70 L671.81,490.70 L672.40,490.70" fill="none" stroke="#0000ff" stroke-width="1.6" stroke-dasharray="8.8 3.4 2 3.3"/>
<path d="M78.40,27.04 L78.99,27.27 L79.59,27.55 L80.18,27.87 L80.78,28.24 L81.37,28.65 L81.96,29.10 L82.56,29.59 L83.15,30.13 L83.75,30.71 L84.34,31.33 L84.93,31.99 L85.53,32.69 L86.12,33.43 L86.72,34.21 L87.31,35.03 L87.90,35.89 L88.50,36.78 L89.09,37.71 L89.69,38.68 L90.28,39.69 L90.87,40.73 L91.47,41.80 L92.06,42.91 L92.66,44.05 L93.25,45.23 L93.84,46.44 L94.44,47.69 L95.03,48.96 L95.63,50.27 L96.22,51.61 L96.81,52.97 L97.41,54.37 L98.00,55.80 L98.60,57.26 L99.19,58.74 L99.78,60.26 L100.38,61.80 L100.97,63.36 L101.57,64.96 L102.16,66.58 L102.75,68.22 L103.35,69.89 L103.94,71.59 L104.54,73.31 L105.13,75.05 L105.72,76.82 L106.32,78.60 L106.91,80.41 L107.51,82.24 L108.10,84.09 L108.69,85.97 L109.29,87.86 L109.88,89.77 L110.48,91.70 L111.07,93.65 L111.66,95.61 L112.26,97.60 L112.85,99.60 L113.45,101.61 L114.04,103.65 L114.63,105.69 L115.23,107.76 L115.82,109.83 L116.42,111.92 L117.01,114.03 L117.60,116.14 L118.20,118.27 L118.79,120.41 L119.39,122.56 L119.98,124.71 L120.57,126.88 L121.17,129.05 L121.76,131.22 L122.36,133.39 L122.95,135.57 L123.54,137.75 L124.14,139.92 L124.73,142.09 L125.33,144.26 L125.92,146.42 L126.51,148.57 L127.11,150.72 L127.70,152.85 L128.30,154.98 L128.89,157.09 L129.48,159.18 L130.08,161.26 L130.67,163.33 L131.27,165.37 L131.86,167.40 L132.45,169.40 L133.05,171.38 L133.64,173.34 L134.24,175.28 L134.83,177.21 L135.42,179.12 L136.02,181.01 L136.61,182.89 L137.21,184.75 L137.80,186.61 L138.39,188.46 L138.99,190.30 L139.58,192.13 L140.18,193.96 L140.77,195.78 L141.36,197.60 L141.96,199.42 L142.55,201.24 L143.15,203.06 L143.74,204.89 L144.33,206.72 L144.93,208.55 L145.52,210.38 L146.12,212.22 L146.71,214.05 L147.30,215.89 L147.90,217.72 L148.49,219.55 L149.09,221.38 L149.68,223.20 L150.27,225.01 L150.87,226.82 L151.46,228.62 L152.06,230.41 L152.65,232.20 L153.24,233.97 L153.84,235.73 L154.43,237.48 L155.03,239.22 L155.62,240.96 L156.21,242.68 L156.81,244.39 L157.40,246.09 L158.00,247.79 L158.59,249.47 L159.18,251.14 L159.78,252.81 L160.37,254.46 L160.97,256.11 L161.56,257.74 L162.15,259.37 L162.75,260.99 L163.34,262.60 L163.94,264.19 L164.53,265.78 L165.12,267.36 L165.72,268.93 L166.31,270.49 L166.91,272.05 L167.50,273.59 L168.09,275.12 L168.69,276.65 L169.28,278.16 L169.88,279.67 L170.47,281.17 L171.06,282.66 L171.66,284.14 L172.25,285.61 L172.85,287.07 L173.44,288.52 L174.03,289.97 L174.63,291.40 L175.22,292.83 L175.82,294.25 L176.41,295.66 L177.00,297.06 L177.60,298.45 L178.19,299.84 L178.79,301.21 L179.38,302.58 L179.97,303.94 L180.57,305.29 L181.16,306.63 L181.76,307.97 L182.35,309.29 L182.94,310.61 L183.54,311.92 L184.13,313.22 L184.73,314.51 L185.32,315.80 L185.91,317.08 L186.51,318.34 L187.10,319.60 L187.70,320.86 L188.29,322.10 L188.88,323.34 L189.48,324.57 L190.07,325.79 L190.67,327.00 L191.26,328.21 L191.85,329.41 L192.45,330.60 L193.04,331.78 L193.64,332.95 L194.23,334.12 L194.82,335.28 L195.42,336.43 L196.01,337.58 L196.61,338.72 L197.20,339.85 L197.79,340.97 L198.39,342.08 L198.98,343.19 L199.58,344.29 L200.17,345.39 L200.76,346.47 L201.36,347.55 L201.95,348.62 L202.55,349.69 L203.14,350.74 L203.73,351.79 L204.33,352.84 L204.92,353.87 L205.52,354.90 L206.11,355.93 L206.70,356.94 L207.30,357.95 L207.89,358.95 L208.49,359.95 L209.08,360.94 L209.67,361.92 L210.27,362.90 L210.86,363.86 L211.46,364.83 L212.05,365.78 L212.64,366.73 L213.24,367.67 L213.83,368.61 L214.43,369.54 L215.02,370.46 L215.61,371.38 L216.21,372.29 L216.80,373.20 L217.40,374.09 L217.99,374.99 L218.58,375.87 L219.18,376.75 L219.77,377.62 L220.37,378.49 L220.96,379.35 L221.55,380.21 L222.15,381.06 L222.74,381.90 L223.34,382.74 L223.93,383.57 L224.52,384.40 L225.12,385.22 L225.71,386.03 L226.31,386.84 L226.90,387.64 L227.49,388.44 L228.09,389.23 L228.68,390.02 L229.28,390.80 L229.87,391.57 L230.46,392.34 L231.06,393.10 L231.65,393.86 L232.25,394.62 L232.84,395.36 L233.43,396.11 L234.03,396.84 L234.62,397.57 L235.22,398.30 L235.81,399.02 L236.40,399.74 L237.00,400.45 L237.59,401.16 L238.19,401.86 L238.78,402.56 L239.37,403.25 L239.97,403.94 L240.56,404.62 L241.16,405.30 L241.75,405.97 L242.34,406.64 L242.94,407.31 L243.53,407.97 L244.13,408.62 L244.72,409.27 L245.31,409.92 L245.91,410.56 L246.50,411.20 L247.10,411.83 L247.69,412.46 L248.28,413.09 L248.88,413.71 L249.47,414.33 L250.07,414.94 L250.66,415.55 L251.25,416.16 L251.85,416.76 L252.44,417.36 L253.04,417.95 L253.63,418.54 L254.22,419.13 L254.82,419.71 L255.41,420.29 L256.01,420.87 L256.60,421.44 L257.19,422.01 L257.79,422.58 L258.38,423.14 L258.98,423.70 L259.57,424.26 L260.16,424.81 L260.76,425.36 L261.35,425.91 L261.95,426.46 L262.54,427.00 L263.13,427.54 L263.73,428.07 L264.32,428.60 L264.92,429.13 L265.51,429.66 L266.10,430.18 L266.70,430.71 L267.29,431.23 L267.89,431.74 L268.48,432.26 L269.07,432.77 L269.67,433.28 L270.26,433.78 L270.86,434.29 L271.45,434.79 L272.04,435.29 L272.64,435.79 L273.23,436.28 L273.83,436.78 L274.42,437.27 L275.01,437.76 L275.61,438.25 L276.20,438.73 L276.80,439.21 L277.39,439.70 L277.98,440.18 L278.58,440.65 L279.17,441.13 L279.77,441.60 L280.36,442.07 L280.95,442.54 L281.55,443.01 L282.14,443.48 L282.74,443.94 L283.33,444.40 L283.92,444.86 L284.52,445.31 L285.11,445.77 L285.71,446.22 L286.30,446.67 L286.89,447.12 L287.49,447.56 L288.08,448.00 L288.68,448.44 L289.27,448.88 L289.86,449.32 L290.46,449.75 L291.05,450.18 L291.65,450.61 L292.24,451.03 L292.83,451.46 L293.43,451.88 L294.02,452.30 L294.62,452.71 L295.21,453.12 L295.80,453.53 L296.40,453.94 L296.99,454.34 L297.59,454.75 L298.18,455.15 L298.77,455.54 L299.37,455.94 L299.96,456.33 L300.56,456.72 L301.15,457.10 L301.74,457.48 L302.34,457.86 L302.93,458.24 L303.53,458.61 L304.12,458.98 L304.71,459.35 L305.31,459.72 L305.90,460.08 L306.50,460.44 L307.09,460.79 L307.68,461.15 L308.28,461.50 L308.87,461.84 L309.47,462.19 L310.06,462.53 L310.65,462.86 L311.25,463.20 L311.84,463.53 L312.44,463.86 L313.03,464.18 L313.62,464.50 L314.22,464.82 L314.81,465.13 L315.41,465.44 L316.00,465.75 L316.59,466.06 L317.19,466.36 L317.78,466.66 L318.38,466.95 L318.97,467.24 L319.56,467.53 L320.16,467.81 L320.75,468.09 L321.35,468.37 L321.94,468.65 L322.53,468.92 L323.13,469.19 L323.72,469.46 L324.32,469.72 L324.91,469.98 L325.50,470.24 L326.10,470.50 L326.69,470.75 L327.29,471.01 L327.88,471.26 L328.47,471.50 L329.07,471.75 L329.66,472.00 L330.26,472.24 L330.85,472.48 L331.44,472.72 L332.04,472.96 L332.63,473.19 L333.23,473.43 L333.82,473.66 L334.41,473.89 L335.01,474.13 L335.60,474.36 L336.20,474.58 L336.79,474.81 L337.38,475.04 L337.98,475.27 L338.57,475.49 L339.17,475.72 L339.76,475.95 L340.35,476.17 L340.95,476.39 L341.54,476.62 L342.14,476.84 L342.73,477.07 L343.32,477.29 L343.92,477.52 L344.51,477.74 L345.11,477.96 L345.70,478.19 L346.29,478.41 L346.89,478.64 L347.48,478.87 L348.08,479.09 L348.67,479.32 L349.26,479.55 L349.86,479.78 L350.45,480.01 L351.05,480.24 L351.64,480.47 L352.23,480.71 L352.83,480.94 L353.42,481.18 L354.02,481.42 L354.61,481.66 L355.20,481.90 L355.80,482.14 L356.39,482.39 L356.99,482.64 L357.58,482.88 L358.17,483.14 L358.77,483.39 L359.36,483.64 L359.96,483.90 L360.55,484.16 L361.14,484.42 L361.74,484.69 L362.33,484.96 L362.93,485.23 L363.52,485.50 L364.11,485.78 L364.71,486.06 L365.30,486.34 L365.90,486.62 L366.49,486.91 L367.08,487.20 L367.68,487.50 L368.27,487.80 L368.87,488.10 L369.46,488.40 L370.05,488.71 L370.65,489.03 L371.24,489.34 L371.84,489.66 L372.43,489.99 L373.02,490.32 L373.62,490.65 L374.21,490.70 L374.81,490.70 L375.40,490.70 L375.99,490.70 L376.59,490.70 L377.18,490.70 L377.78,490.70 L378.37,490.70 L378.96,490.70 L379.56,490.70 L380.15,490.70 L380.75,490.70 L381.34,490.70 L381.93,490.70 L382.53,490.70 L383.12,490.70 L383.72,490.70 L384.31,490.70 L384.90,490.70 L385.50,490.70 L386.09,490.70 L386.69,490.70 L387.28,490.70 L387.87,490.70 L388.47,490.70 L389.06,490.70 L389.66,490.70 L390.25,490.70 L390.84,490.70 L391.44,490.70 L392.03,490.70 L392.63,490.70 L393.22,490.70 L393.81,490.70 L394.41,490.70 L395.00,490.70 L395.60,490.70 L396.19,490.70 L396.78,490.70 L397.38,490.70 L397.97,490.70 L398.57,490.70 L399.16,490.70 L399.75,490.70 L400.35,490.70 L400.94,490.70 L401.54,490.70 L402.13,490.70 L402.72,490.70 L403.32,490.70 L403.91,490.70 L404.51,490.70 L405.10,490.70 L405.69,490.70 L406.29,490.70 L406.88,490.70 L407.48,490.70 L408.07,490.70 L408.66,490.70 L409.26,490.70 L409.85,490.70 L410.45,490.70 L411.04,490.70 L411.63,490.70 L412.23,490.70 L412.82,490.70 L413.42,490.70 L414.01,490.70 L414.60,490.70 L415.20,490.70 L415.79,490.70 L416.39,490.70 L416.98,490.70 L417.57,490.70 L418.17,490.70 L418.76,490.70 L419.36,490.70 L419.95,490.70 L420.54,490.70 L421.14,490.70 L421.73,490.70 L422.33,490.70 L422.92,490.70 L423.51,490.70 L424.11,490.70 L424.70,490.70 L425.30,490.70 L425.89,490.70 L426.48,490.70 L427.08,490.70 L427.67,490.70 L428.27,490.70 L428.86,490.70 L429.45,490.70 L430.05,490.70 L430.64,490.70 L431.24,490.70 L431.83,490.70 L432.42,490.70 L433.02,490.70 L433.61,490.70 L434.21,490.70 L434.80,490.70 L435.39,490.70 L435.99,490.70 L436.58,490.70 L437.18,490.70 L437.77,490.70 L438.36,490.70 L438.96,490.70 L439.55,490.70 L440.15,490.70 L440.74,490.70 L441.33,490.70 L441.93,490.70 L442.52,490.70 L443.12,490.70 L443.71,490.70 L444.30,490.70 L444.90,490.70 L445.49,490.70 L446.09,490.70 L446.68,490.70 L447.27,490.70 L447.87,490.70 L448.46,490.70 L449.06,490.70 L449.65,490.70 L450.24,490.70 L450.84,490.70 L451.43,490.70 L452.03,490.70 L452.62,490.70 L453.21,490.70 L453.81,490.70 L454.40,490.70 L455.00,490.70 L455.59,490.70 L456.18,490.70 L456.78,490.70 L457.37,490.70 L457.97,490.70 L458.56,490.70 L459.15,490.70 L459.75,490.70 L460.34,490.70 L460.94,490.70 L461.53,490.70 L462.12,490.70 L462.72,490.70 L463.31,490.70 L463.91,490.70 L464.50,490.70 L465.09,490.70 L465.69,490.70 L466.28,490.70 L466.88,490.70 L467.47,490.70 L468.06,490.70 L468.66,490.70 L469.25,490.70 L469.85,490.70 L470.44,490.70 L471.03,490.70 L471.63,490.70 L472.22,490.70 L472.82,490.70 L473.41,490.70 L474.00,490.70 L474.60,490.70 L475.19,490.70 L475.79,490.70 L476.38,490.70 L476.97,490.70 L477.57,490.70 L478.16,490.70 L478.76,490.70 L479.35,490.70 L479.94,490.70 L480.54,490.70 L481.13,490.70 L481.73,490.70 L482.32,490.70 L482.91,490.70 L483.51,490.70 L484.10,490.70 L484.70,490.70 L485.29,490.70 L485.88,490.70 L486.48,490.70 L487.07,490.70 L487.67,490.70 L488.26,490.70 L488.85,490.70 L489.45,490.70 L490.04,490.70 L490.64,490.70 L491.23,490.70 L491.82,490.70 L492.42,490.70 L493.01,490.70 L493.61,490.70 L494.20,490.70 L494.79,490.70 L495.39,490.70 L495.98,490.70 L496.58,490.70 L497.17,490.70 L497.76,490.70 L498.36,490.70 L498.95,490.70 L499.55,490.70 L500.14,490.70 L500.73,490.70 L501.33,490.70 L501.92,490.70 L502.52,490.70 L503.11,490.70 L503.70,490.70 L504.30,490.70 L504.89,490.70 L505.49,490.70 L506.08,490.70 L506.67,490.70 L507.27,490.70 L507.86,490.70 L508.46,490.70 L509.05,490.70 L509.64,490.70 L510.24,490.70 L510.83,490.70 L511.43,490.70 L512.02,490.70 L512.61,490.70 L513.21,490.70 L513.80,490.70 L514.40,490.70 L514.99,490.70 L515.58,490.70 L516.18,490.70 L516.77,490.70 L517.37,490.70 L517.96,490.70 L518.55,490.70 L519.15,490.70 L519.74,490.70 L520.34,490.70 L520.93,490.70 L521.52,490.70 L522.12,490.70 L522.71,490.70 L523.31,490.70 L523.90,490.70 L524.49,490.70 L525.09,490.70 L525.68,490.70 L526.28,490.70 L526.87,490.70 L527.46,490.70 L528.06,490.70 L528.65,490.70 L529.25,490.70 L529.84,490.70 L530.43,490.70 L531.03,490.70 L531.62,490.70 L532.22,490.70 L532.81,490.70 L533.40,490.70 L534.00,490.70 L534.59,490.70 L535.19,490.70 L535.78,490.70 L536.37,490.70 L536.97,490.70 L537.56,490.70 L538.16,490.70 L538.75,490.70 L539.34,490.70 L539.94,490.70 L540.53,490.70 L541.13,490.70 L541.72,490.70 L542.31,490.70 L542.91,490.70 L543.50,490.70 L544.10,490.70 L544.69,490.70 L545.28,490.70 L545.88,490.70 L546.47,490.70 L547.07,490.70 L547.66,490.70 L548.25,490.70 L548.85,490.70 L549.44,490.70 L550.04,490.70 L550.63,490.70 L551.22,490.70 L551.82,490.70 L552.41,490.70 L553.01,490.70 L553.60,490.70 L554.19,490.70 L554.79,490.70 L555.38,490.70 L555.98,490.70 L556.57,490.70 L557.16,490.70 L557.76,490.70 L558.35,490.70 L558.95,490.70 L559.54,490.70 L560.13,490.70 L560.73,490.70 L561.32,490.70 L561.92,490.70 L562.51,490.70 L563.10,490.70 L563.70,490.70 L564.29,490.70 L564.89,490.70 L565.48,490.70 L566.07,490.70 L566.67,490.70 L567.26,490.70 L567.86,490.70 L568.45,490.70 L569.04,490.70 L569.64,490.70 L570.23,490.70 L570.83,490.70 L571.42,490.70 L572.01,490.70 L572.61,490.70 L573.20,490.70 L573.80,490.70 L574.39,490.70 L574.98,490.70 L575.58,490.70 L576.17,490.70 L576.77,490.70 L577.36,490.70 L577.95,490.70 L578.55,490.70 L579.14,490.70 L579.74,490.70 L580.33,490.70 L580.92,490.70 L581.52,490.70 L582.11,490.70 L582.71,490.70 L583.30,490.70 L583.89,490.70 L584.49,490.70 L585.08,490.70 L585.68,490.70 L586.27,490.70 L586.86,490.70 L587.46,490.70 L588.05,490.70 L588.65,490.70 L589.24,490.70 L589.83,490.70 L590.43,490.70 L591.02,490.70 L591.62,490.70 L592.21,490.70 L592.80,490.70 L593.40,490.70 L593.99,490.70 L594.59,490.70 L595.18,490.70 L595.77,490.70 L596.37,490.70 L596.96,490.70 L597.56,490.70 L598.15,490.70 L598.74,490.70 L599.34,490.70 L599.93,490.70 L600.53,490.70 L601.12,490.70 L601.71,490.70 L602.31,490.70 L602.90,490.70 L603.50,490.70 L604.09,490.70 L604.68,490.70 L605.28,490.70 L605.87,490.70 L606.47,490.70 L607.06,490.70 L607.65,490.70 L608.25,490.70 L608.84,490.70 L609.44,490.70 L610.03,490.70 L610.62,490.70 L611.22,490.70 L611.81,490.70 L612.41,490.70 L613.00,490.70 L613.59,490.70 L614.19,490.70 L614.78,490.70 L615.38,490.70 L615.97,490.70 L616.56,490.70 L617.16,490.70 L617.75,490.70 L618.35,490.70 L618.94,490.70 L619.53,490.70 L620.13,490.70 L620.72,490.70 L621.32,490.70 L621.91,490.70 L622.50,490.70 L623.10,490.70 L623.69,490.70 L624.29,490.70 L624.88,490.70 L625.47,490.70 L626.07,490.70 L626.66,490.70 L627.26,490.70 L627.85,490.70 L628.44,490.70 L629.04,490.70 L629.63,490.70 L630.23,490.70 L630.82,490.70 L631.41,490.70 L632.01,490.70 L632.60,490.70 L633.20,490.70 L633.79,490.70 L634.38,490.70 L634.98,490.70 L635.57,490.70 L636.17,490.70 L636.76,490.70 L637.35,490.70 L637.95,490.70 L638.54,490.70 L639.14,490.70 L639.73,490.70 L640.32,490.70 L640.92,490.70 L641.51,490.70 L642.11,490.70 L642.70,490.70 L643.29,490.70 L643.89,490.70 L644.48,490.70 L645.08,490.70 L645.67,490.70 L646.26,490.70 L646.86,490.70 L647.45,490.70 L648.05,490.70 L648.64,490.70 L649.23,490.70 L649.83,490.70 L650.42,490.70 L651.02,490.70 L651.61,490.70 L652.20,490.70 L652.80,490.70 L653.39,490.70 L653.99,490.70 L654.58,490.70 L655.17,490.70 L655.77,490.70 L656.36,490.70 L656.96,490.70 L657.55,490.70 L658.14,490.70 L658.74,490.70 L659.33,490.70 L659.93,490.70 L660.52,490.70 L661.11,490.70 L661.71,490.70 L662.30,490.70 L662.90,490.70 L663.49,490.70 L664.08,490.70 L664.68,490.70 L665.27,490.70 L665.87,490.70 L666.46,490.70 L667.05,490.70 L667.65,490.70 L668.24,490.70 L668.84,490.70 L669.43,490.70 L670.02,490.70 L670.62,490.70 L671.21,490.70 L671.81,490.70 L672.40,490.70" fill="none" stroke="#ff0000" stroke-width="1.6" stroke-dasharray="11 6.5"/>
<path d="M78.40,27.04 L78.99,27.15 L79.59,27.35 L80.18,27.62 L80.78,27.98 L81.37,28.43 L81.96,28.94 L82.56,29.54 L83.15,30.22 L83.75,30.96 L84.34,31.79 L84.93,32.68 L85.53,33.64 L86.12,34.67 L86.72,35.77 L87.31,36.94 L87.90,38.17 L88.50,39.46 L89.09,40.82 L89.69,42.23 L90.28,43.70 L90.87,45.23 L91.47,46.82 L92.06,48.46 L92.66,50.15 L93.25,51.90 L93.84,53.69 L94.44,55.53 L95.03,57.42 L95.63,59.36 L96.22,61.33 L96.81,63.35 L97.41,65.42 L98.00,67.52 L98.60,69.66 L99.19,71.83 L99.78,74.04 L100.38,76.29 L100.97,78.56 L101.57,80.87 L102.16,83.21 L102.75,85.57 L103.35,87.96 L103.94,90.38 L104.54,92.82 L105.13,95.28 L105.72,97.76 L106.32,100.26 L106.91,102.78 L107.51,105.32 L108.10,107.86 L108.69,110.43 L109.29,113.00 L109.88,115.59 L110.48,118.18 L111.07,120.78 L111.66,123.39 L112.26,126.01 L112.85,128.63 L113.45,131.26 L114.04,133.90 L114.63,136.54 L115.23,139.19 L115.82,141.84 L116.42,144.50 L117.01,147.16 L117.60,149.83 L118.20,152.50 L118.79,155.17 L119.39,157.84 L119.98,160.51 L120.57,163.19 L121.17,165.87 L121.76,168.54 L122.36,171.22 L122.95,173.90 L123.54,176.57 L124.14,179.25 L124.73,181.92 L125.33,184.59 L125.92,187.26 L126.51,189.92 L127.11,192.58 L127.70,195.24 L128.30,197.89 L128.89,200.53 L129.48,203.18 L130.08,205.81 L130.67,208.44 L131.27,211.06 L131.86,213.68 L132.45,216.28 L133.05,218.88 L133.64,221.47 L134.24,224.05 L134.83,226.62 L135.42,229.19 L136.02,231.74 L136.61,234.28 L137.21,236.81 L137.80,239.32 L138.39,241.83 L138.99,244.32 L139.58,246.80 L140.18,249.26 L140.77,251.71 L141.36,254.15 L141.96,256.57 L142.55,258.98 L143.15,261.37 L143.74,263.75 L144.33,266.10 L144.93,268.44 L145.52,270.77 L146.12,273.07 L146.71,275.36 L147.30,277.63 L147.90,279.88 L148.49,282.10 L149.09,284.31 L149.68,286.51 L150.27,288.68 L150.87,290.83 L151.46,292.97 L152.06,295.09 L152.65,297.19 L153.24,299.27 L153.84,301.33 L154.43,303.38 L155.03,305.41 L155.62,307.42 L156.21,309.41 L156.81,311.39 L157.40,313.35 L158.00,315.29 L158.59,317.22 L159.18,319.12 L159.78,321.02 L160.37,322.89 L160.97,324.75 L161.56,326.60 L162.15,328.43 L162.75,330.24 L163.34,332.04 L163.94,333.82 L164.53,335.58 L165.12,337.33 L165.72,339.07 L166.31,340.79 L166.91,342.50 L167.50,344.19 L168.09,345.86 L168.69,347.53 L169.28,349.18 L169.88,350.81 L170.47,352.43 L171.06,354.04 L171.66,355.63 L172.25,357.21 L172.85,358.77 L173.44,360.32 L174.03,361.86 L174.63,363.39 L175.22,364.90 L175.82,366.40 L176.41,367.89 L177.00,369.36 L177.60,370.83 L178.19,372.28 L178.79,373.72 L179.38,375.14 L179.97,376.56 L180.57,377.96 L181.16,379.35 L181.76,380.73 L182.35,382.10 L182.94,383.46 L183.54,384.80 L184.13,386.14 L184.73,387.47 L185.32,388.78 L185.91,390.08 L186.51,391.38 L187.10,392.66 L187.70,393.93 L188.29,395.19 L188.88,396.44 L189.48,397.68 L190.07,398.91 L190.67,400.13 L191.26,401.34 L191.85,402.54 L192.45,403.73 L193.04,404.91 L193.64,406.08 L194.23,407.24 L194.82,408.40 L195.42,409.54 L196.01,410.67 L196.61,411.79 L197.20,412.90 L197.79,414.00 L198.39,415.10 L198.98,416.18 L199.58,417.25 L200.17,418.32 L200.76,419.38 L201.36,420.42 L201.95,421.46 L202.55,422.49 L203.14,423.51 L203.73,424.52 L204.33,425.52 L204.92,426.52 L205.52,427.50 L206.11,428.48 L206.70,429.45 L207.30,430.41 L207.89,431.36 L208.49,432.30 L209.08,433.23 L209.67,434.16 L210.27,435.08 L210.86,435.99 L211.46,436.89 L212.05,437.78 L212.64,438.67 L213.24,439.55 L213.83,440.42 L214.43,441.28 L215.02,442.13 L215.61,442.98 L216.21,443.82 L216.80,444.65 L217.40,445.48 L217.99,446.29 L218.58,447.10 L219.18,447.91 L219.77,448.70 L220.37,449.49 L220.96,450.27 L221.55,451.05 L222.15,451.81 L222.74,452.57 L223.34,453.33 L223.93,454.08 L224.52,454.82 L225.12,455.55 L225.71,456.28 L226.31,457.00 L226.90,457.71 L227.49,458.42 L228.09,459.12 L228.68,459.82 L229.28,460.50 L229.87,461.19 L230.46,461.86 L231.06,462.53 L231.65,463.20 L232.25,463.86 L232.84,464.51 L233.43,465.16 L234.03,465.80 L234.62,466.44 L235.22,467.07 L235.81,467.69 L236.40,468.31 L237.00,468.92 L237.59,469.53 L238.19,470.14 L238.78,470.74 L239.37,471.33 L239.97,471.92 L240.56,472.50 L241.16,473.08 L241.75,473.65 L242.34,474.22 L242.94,474.78 L243.53,475.34 L244.13,475.89 L244.72,476.44 L245.31,476.99 L245.91,477.53 L246.50,478.07 L247.10,478.60 L247.69,479.12 L248.28,479.65 L248.88,480.17 L249.47,480.68 L250.07,481.19 L250.66,481.70 L251.25,482.20 L251.85,482.70 L252.44,483.20 L253.04,483.69 L253.63,484.18 L254.22,484.66 L254.82,485.14 L255.41,485.62 L256.01,486.09 L256.60,486.56 L257.19,487.03 L257.79,487.49 L258.38,487.96 L258.98,488.41 L259.57,488.87 L260.16,489.32 L260.76,489.77 L261.35,490.21 L261.95,490.66 L262.54,490.70 L263.13,490.70 L263.73,490.70 L264.32,490.70 L264.92,490.70 L265.51,490.70 L266.10,490.70 L266.70,490.70 L267.29,490.70 L267.89,490.70 L268.48,490.70 L269.07,490.70 L269.67,490.70 L270.26,490.70 L270.86,490.70 L271.45,490.70 L272.04,490.70 L272.64,490.70 L273.23,490.70 L273.83,490.70 L274.42,490.70 L275.01,490.70 L275.61,490.70 L276.20,490.70 L276.80,490.70 L277.39,490.70 L277.98,490.70 L278.58,490.70 L279.17,490.70 L279.77,490.70 L280.36,490.70 L280.95,490.70 L281.55,490.70 L282.14,490.70 L282.74,490.70 L283.33,490.70 L283.92,490.70 L284.52,490.70 L285.11,490.70 L285.71,490.70 L286.30,490.70 L286.89,490.70 L287.49,490.70 L288.08,490.70 L288.68,490.70 L289.27,490.70 L289.86,490.70 L290.46,490.70 L291.05,490.70 L291.65,490.70 L292.24,490.70 L292.83,490.70 L293.43,490.70 L294.02,490.70 L294.62,490.70 L295.21,490.70 L295.80,490.70 L296.40,490.70 L296.99,490.70 L297.59,490.70 L298.18,490.70 L298.77,490.70 L299.37,490.70 L299.96,490.70 L300.56,490.70 L301.15,490.70 L301.74,490.70 L302.34,490.70 L302.93,490.70 L303.53,490.70 L304.12,490.70 L304.71,490.70 L305.31,490.70 L305.90,490.70 L306.50,490.70 L307.09,490.70 L307.68,490.70 L308.28,490.70 L308.87,490.70 L309.47,490.70 L310.06,490.70 L310.65,490.70 L311.25,490.70 L311.84,490.70 L312.44,490.70 L313.03,490.70 L313.62,490.70 L314.22,490.70 L314.81,490.70 L315.41,490.70 L316.00,490.70 L316.59,490.70 L317.19,490.70 L317.78,490.70 L318.38,490.70 L318.97,490.70 L319.56,490.70 L320.16,490.70 L320.75,490.70 L321.35,490.70 L321.94,490.70 L322.53,490.70 L323.13,490.70 L323.72,490.70 L324.32,490.70 L324.91,490.70 L325.50,490.70 L326.10,490.70 L326.69,490.70 L327.29,490.70 L327.88,490.70 L328.47,490.70 L329.07,490.70 L329.66,490.70 L330.26,490.70 L330.85,490.70 L331.44,490.70 L332.04,490.70 L332.63,490.70 L333.23,490.70 L333.82,490.70 L334.41,490.70 L335.01,490.70 L335.60,490.70 L336.20,490.70 L336.79,490.70 L337.38,490.70 L337.98,490.70 L338.57,490.70 L339.17,490.70 L339.76,490.70 L340.35,490.70 L340.95,490.70 L341.54,490.70 L342.14,490.70 L342.73,490.70 L343.32,490.70 L343.92,490.70 L344.51,490.70 L345.11,490.70 L345.70,490.70 L346.29,490.70 L346.89,490.70 L347.48,490.70 L348.08,490.70 L348.67,490.70 L349.26,490.70 L349.86,490.70 L350.45,490.70 L351.05,490.70 L351.64,490.70 L352.23,490.70 L352.83,490.70 L353.42,490.70 L354.02,490.70 L354.61,490.70 L355.20,490.70 L355.80,490.70 L356.39,490.70 L356.99,490.70 L357.58,490.70 L358.17,490.70 L358.77,490.70 L359.36,490.70 L359.96,490.70 L360.55,490.70 L361.14,490.70 L361.74,490.70 L362.33,490.70 L362.93,490.70 L363.52,490.70 L364.11,490.70 L364.71,490.70 L365.30,490.70 L365.90,490.70 L366.49,490.70 L367.08,490.70 L367.68,490.70 L368.27,490.70 L368.87,490.70 L369.46,490.70 L370.05,490.70 L370.65,490.70 L371.24,490.70 L371.84,490.70 L372.43,490.70 L373.02,490.70 L373.62,490.70 L374.21,490.70 L374.81,490.70 L375.40,490.70 L375.99,490.70 L376.59,490.70 L377.18,490.70 L377.78,490.70 L378.37,490.70 L378.96,490.70 L379.56,490.70 L380.15,490.70 L380.75,490.70 L381.34,490.70 L381.93,490.70 L382.53,490.70 L383.12,490.70 L383.72,490.70 L384.31,490.70 L384.90,490.70 L385.50,490.70 L386.09,490.70 L386.69,490.70 L387.28,490.70 L387.87,490.70 L388.47,490.70 L389.06,490.70 L389.66,490.70 L390.25,490.70 L390.84,490.70 L391.44,490.70 L392.03,490.70 L392.63,490.70 L393.22,490.70 L393.81,490.70 L394.41,490.70 L395.00,490.70 L395.60,490.70 L396.19,490.70 L396.78,490.70 L397.38,490.70 L397.97,490.70 L398.57,490.70 L399.16,490.70 L399.75,490.70 L400.35,490.70 L400.94,490.70 L401.54,490.70 L402.13,490.70 L402.72,490.70 L403.32,490.70 L403.91,490.70 L404.51,490.70 L405.10,490.70 L405.69,490.70 L406.29,490.70 L406.88,490.70 L407.48,490.70 L408.07,490.70 L408.66,490.70 L409.26,490.70 L409.85,490.70 L410.45,490.70 L411.04,490.70 L411.63,490.70 L412.23,490.70 L412.82,490.70 L413.42,490.70 L414.01,490.70 L414.60,490.70 L415.20,490.70 L415.79,490.70 L416.39,490.70 L416.98,490.70 L417.57,490.70 L418.17,490.70 L418.76,490.70 L419.36,490.70 L419.95,490.70 L420.54,490.70 L421.14,490.70 L421.73,490.70 L422.33,490.70 L422.92,490.70 L423.51,490.70 L424.11,490.70 L424.70,490.70 L425.30,490.70 L425.89,490.70 L426.48,490.70 L427.08,490.70 L427.67,490.70 L428.27,490.70 L428.86,490.70 L429.45,490.70 L430.05,490.70 L430.64,490.70 L431.24,490.70 L431.83,490.70 L432.42,490.70 L433.02,490.70 L433.61,490.70 L434.21,490.70 L434.80,490.70 L435.39,490.70 L435.99,490.70 L436.58,490.70 L437.18,490.70 L437.77,490.70 L438.36,490.70 L438.96,490.70 L439.55,490.70 L440.15,490.70 L440.74,490.70 L441.33,490.70 L441.93,490.70 L442.52,490.70 L443.12,490.70 L443.71,490.70 L444.30,490.70 L444.90,490.70 L445.49,490.70 L446.09,490.70 L446.68,490.70 L447.27,490.70 L447.87,490.70 L448.46,490.70 L449.06,490.70 L449.65,490.70 L450.24,490.70 L450.84,490.70 L451.43,490.70 L452.03,490.70 L452.62,490.70 L453.21,490.70 L453.81,490.70 L454.40,490.70 L455.00,490.70 L455.59,490.70 L456.18,490.70 L456.78,490.70 L457.37,490.70 L457.97,490.70 L458.56,490.70 L459.15,490.70 L459.75,490.70 L460.34,490.70 L460.94,490.70 L461.53,490.70 L462.12,490.70 L462.72,490.70 L463.31,490.70 L463.91,490.70 L464.50,490.70 L465.09,490.70 L465.69,490.70 L466.28,490.70 L466.88,490.70 L467.47,490.70 L468.06,490.70 L468.66,490.70 L469.25,490.70 L469.85,490.70 L470.44,490.70 L471.03,490.70 L471.63,490.70 L472.22,490.70 L472.82,490.70 L473.41,490.70 L474.00,490.70 L474.60,490.70 L475.19,490.70 L475.79,490.70 L476.38,490.70 L476.97,490.70 L477.57,490.70 L478.16,490.70 L478.76,490.70 L479.35,490.70 L479.94,490.70 L480.54,490.70 L481.13,490.70 L481.73,490.70 L482.32,490.70 L482.91,490.70 L483.51,490.70 L484.10,490.70 L484.70,490.70 L485.29,490.70 L485.88,490.70 L486.48,490.70 L487.07,490.70 L487.67,490.70 L488.26,490.70 L488.85,490.70 L489.45,490.70 L490.04,490.70 L490.64,490.70 L491.23,490.70 L491.82,490.70 L492.42,490.70 L493.01,490.70 L493.61,490.70 L494.20,490.70 L494.79,490.70 L495.39,490.70 L495.98,490.70 L496.58,490.70 L497.17,490.70 L497.76,490.70 L498.36,490.70 L498.95,490.70 L499.55,490.70 L500.14,490.70 L500.73,490.70 L501.33,490.70 L501.92,490.70 L502.52,490.70 L503.11,490.70 L503.70,490.70 L504.30,490.70 L504.89,490.70 L505.49,490.70 L506.08,490.70 L506.67,490.70 L507.27,490.70 L507.86,490.70 L508.46,490.70 L509.05,490.70 L509.64,490.70 L510.24,490.70 L510.83,490.70 L511.43,490.70 L512.02,490.70 L512.61,490.70 L513.21,490.70 L513.80,490.70 L514.40,490.70 L514.99,490.70 L515.58,490.70 L516.18,490.70 L516.77,490.70 L517.37,490.70 L517.96,490.70 L518.55,490.70 L519.15,490.70 L519.74,490.70 L520.34,490.70 L520.93,490.70 L521.52,490.70 L522.12,490.70 L522.71,490.70 L523.31,490.70 L523.90,490.70 L524.49,490.70 L525.09,490.70 L525.68,490.70 L526.28,490.70 L526.87,490.70 L527.46,490.70 L528.06,490.70 L528.65,490.70 L529.25,490.70 L529.84,490.70 L530.43,490.70 L531.03,490.70 L531.62,490.70 L532.22,490.70 L532.81,490.70 L533.40,490.70 L534.00,490.70 L534.59,490.70 L535.19,490.70 L535.78,490.70 L536.37,490.70 L536.97,490.70 L537.56,490.70 L538.16,490.70 L538.75,490.70 L539.34,490.70 L539.94,490.70 L540.53,490.70 L541.13,490.70 L541.72,490.70 L542.31,490.70 L542.91,490.70 L543.50,490.70 L544.10,490.70 L544.69,490.70 L545.28,490.70 L545.88,490.70 L546.47,490.70 L547.07,490.70 L547.66,490.70 L548.25,490.70 L548.85,490.70 L549.44,490.70 L550.04,490.70 L550.63,490.70 L551.22,490.70 L551.82,490.70 L552.41,490.70 L553.01,490.70 L553.60,490.70 L554.19,490.70 L554.79,490.70 L555.38,490.70 L555.98,490.70 L556.57,490.70 L557.16,490.70 L557.76,490.70 L558.35,490.70 L558.95,490.70 L559.54,490.70 L560.13,490.70 L560.73,490.70 L561.32,490.70 L561.92,490.70 L562.51,490.70 L563.10,490.70 L563.70,490.70 L564.29,490.70 L564.89,490.70 L565.48,490.70 L566.07,490.70 L566.67,490.70 L567.26,490.70 L567.86,490.70 L568.45,490.70 L569.04,490.70 L569.64,490.70 L570.23,490.70 L570.83,490.70 L571.42,490.70 L572.01,490.70 L572.61,490.70 L573.20,490.70 L573.80,490.70 L574.39,490.70 L574.98,490.70 L575.58,490.70 L576.17,490.70 L576.77,490.70 L577.36,490.70 L577.95,490.70 L578.55,490.70 L579.14,490.70 L579.74,490.70 L580.33,490.70 L580.92,490.70 L581.52,490.70 L582.11,490.70 L582.71,490.70 L583.30,490.70 L583.89,490.70 L584.49,490.70 L585.08,490.70 L585.68,490.70 L586.27,490.70 L586.86,490.70 L587.46,490.70 L588.05,490.70 L588.65,490.70 L589.24,490.70 L589.83,490.70 L590.43,490.70 L591.02,490.70 L591.62,490.70 L592.21,490.70 L592.80,490.70 L593.40,490.70 L593.99,490.70 L594.59,490.70 L595.18,490.70 L595.77,490.70 L596.37,490.70 L596.96,490.70 L597.56,490.70 L598.15,490.70 L598.74,490.70 L599.34,490.70 L599.93,490.70 L600.53,490.70 L601.12,490.70 L601.71,490.70 L602.31,490.70 L602.90,490.70 L603.50,490.70 L604.09,490.70 L604.68,490.70 L605.28,490.70 L605.87,490.70 L606.47,490.70 L607.06,490.70 L607.65,490.70 L608.25,490.70 L608.84,490.70 L609.44,490.70 L610.03,490.70 L610.62,490.70 L611.22,490.70 L611.81,490.70 L612.41,490.70 L613.00,490.70 L613.59,490.70 L614.19,490.70 L614.78,490.70 L615.38,490.70 L615.97,490.70 L616.56,490.70 L617.16,490.70 L617.75,490.70 L618.35,490.70 L618.94,490.70 L619.53,490.70 L620.13,490.70 L620.72,490.70 L621.32,490.70 L621.91,490.70 L622.50,490.70 L623.10,490.70 L623.69,490.70 L624.29,490.70 L624.88,490.70 L625.47,490.70 L626.07,490.70 L626.66,490.70 L627.26,490.70 L627.85,490.70 L628.44,490.70 L629.04,490.70 L629.63,490.70 L630.23,490.70 L630.82,490.70 L631.41,490.70 L632.01,490.70 L632.60,490.70 L633.20,490.70 L633.79,490.70 L634.38,490.70 L634.98,490.70 L635.57,490.70 L636.17,490.70 L636.76,490.70 L637.35,490.70 L637.95,490.70 L638.54,490.70 L639.14,490.70 L639.73,490.70 L640.32,490.70 L640.92,490.70 L641.51,490.70 L642.11,490.70 L642.70,490.70 L643.29,490.70 L643.89,490.70 L644.48,490.70 L645.08,490.70 L645.67,490.70 L646.26,490.70 L646.86,490.70 L647.45,490.70 L648.05,490.70 L648.64,490.70 L649.23,490.70 L649.83,490.70 L650.42,490.70 L651.02,490.70 L651.61,490.70 L652.20,490.70 L652.80,490.70 L653.39,490.70 L653.99,490.70 L654.58,490.70 L655.17,490.70 L655.77,490.70 L656.36,490.70 L656.96,490.70 L657.55,490.70 L658.14,490.70 L658.74,490.70 L659.33,490.70 L659.93,490.70 L660.52,490.70 L661.11,490.70 L661.71,490.70 L662.30,490.70 L662.90,490.70 L663.49,490.70 L664.08,490.70 L664.68,490.70 L665.27,490.70 L665.87,490.70 L666.46,490.70 L667.05,490.70 L667.65,490.70 L668.24,490.70 L668.84,490.70 L669.43,490.70 L670.02,490.70 L670.62,490.70 L671.21,490.70 L671.81,490.70 L672.40,490.70" fill="none" stroke="#7e2f8e" stroke-width="1.6"/>
<g fill="none" stroke="#7e2f8e" stroke-width="1.5"><rect x="76.30" y="24.94" width="4.2" height="4.2"/><rect x="76.89" y="25.05" width="4.2" height="4.2"/><rect x="77.49" y="25.25" width="4.2" height="4.2"/><rect x="78.38" y="25.69" width="4.2" height="4.2"/><rect x="79.27" y="26.33" width="4.2" height="4.2"/><rect x="80.46" y="27.44" width="4.2" height="4.2"/><rect x="81.53" y="28.71" width="4.2" height="4.2"/><rect x="86.50" y="37.59" width="4.2" height="4.2"/><rect x="92.30" y="53.31" width="4.2" height="4.2"/><rect x="97.20" y="70.14" width="4.2" height="4.2"/><rect x="102.20" y="89.75" width="4.2" height="4.2"/><rect x="108.00" y="114.44" width="4.2" height="4.2"/><rect x="113.90" y="140.54" width="4.2" height="4.2"/><rect x="119.80" y="167.07" width="4.2" height="4.2"/><rect x="125.80" y="194.02" width="4.2" height="4.2"/><rect x="131.70" y="220.06" width="4.2" height="4.2"/><rect x="137.30" y="243.94" width="4.2" height="4.2"/><rect x="143.20" y="267.80" width="4.2" height="4.2"/><rect x="148.70" y="288.49" width="4.2" height="4.2"/><rect x="154.50" y="308.60" width="4.2" height="4.2"/><rect x="160.40" y="327.38" width="4.2" height="4.2"/><rect x="166.00" y="343.78" width="4.2" height="4.2"/><rect x="171.70" y="359.16" width="4.2" height="4.2"/><rect x="177.20" y="372.85" width="4.2" height="4.2"/><rect x="182.70" y="385.53" width="4.2" height="4.2"/><rect x="188.20" y="397.28" width="4.2" height="4.2"/><rect x="193.70" y="408.16" width="4.2" height="4.2"/><rect x="199.10" y="418.05" width="4.2" height="4.2"/><rect x="204.60" y="427.34" width="4.2" height="4.2"/><rect x="210.10" y="435.91" width="4.2" height="4.2"/><rect x="215.60" y="443.80" width="4.2" height="4.2"/><rect x="221.10" y="451.06" width="4.2" height="4.2"/><rect x="226.80" y="457.97" width="4.2" height="4.2"/><rect x="232.20" y="463.99" width="4.2" height="4.2"/><rect x="237.50" y="469.45" width="4.2" height="4.2"/><rect x="243.20" y="474.88" width="4.2" height="4.2"/><rect x="248.70" y="479.72" width="4.2" height="4.2"/><rect x="254.10" y="484.15" width="4.2" height="4.2"/><rect x="259.93" y="488.60" width="4.2" height="4.2"/><rect x="265.29" y="488.60" width="4.2" height="4.2"/><rect x="270.64" y="488.60" width="4.2" height="4.2"/><rect x="276.00" y="488.60" width="4.2" height="4.2"/><rect x="281.36" y="488.60" width="4.2" height="4.2"/><rect x="286.71" y="488.60" width="4.2" height="4.2"/><rect x="292.07" y="488.60" width="4.2" height="4.2"/><rect x="297.43" y="488.60" width="4.2" height="4.2"/><rect x="302.79" y="488.60" width="4.2" height="4.2"/><rect x="308.14" y="488.60" width="4.2" height="4.2"/><rect x="313.50" y="488.60" width="4.2" height="4.2"/><rect x="318.86" y="488.60" width="4.2" height="4.2"/><rect x="324.21" y="488.60" width="4.2" height="4.2"/><rect x="329.57" y="488.60" width="4.2" height="4.2"/><rect x="334.93" y="488.60" width="4.2" height="4.2"/><rect x="340.28" y="488.60" width="4.2" height="4.2"/><rect x="345.64" y="488.60" width="4.2" height="4.2"/><rect x="351.00" y="488.60" width="4.2" height="4.2"/><rect x="356.36" y="488.60" width="4.2" height="4.2"/><rect x="361.71" y="488.60" width="4.2" height="4.2"/><rect x="367.07" y="488.60" width="4.2" height="4.2"/><rect x="372.43" y="488.60" width="4.2" height="4.2"/><rect x="377.78" y="488.60" width="4.2" height="4.2"/><rect x="383.14" y="488.60" width="4.2" height="4.2"/><rect x="388.50" y="488.60" width="4.2" height="4.2"/><rect x="393.86" y="488.60" width="4.2" height="4.2"/><rect x="399.21" y="488.60" width="4.2" height="4.2"/><rect x="404.57" y="488.60" width="4.2" height="4.2"/><rect x="409.93" y="488.60" width="4.2" height="4.2"/><rect x="415.28" y="488.60" width="4.2" height="4.2"/><rect x="420.64" y="488.60" width="4.2" height="4.2"/><rect x="426.00" y="488.60" width="4.2" height="4.2"/><rect x="431.35" y="488.60" width="4.2" height="4.2"/><rect x="436.71" y="488.60" width="4.2" height="4.2"/><rect x="442.07" y="488.60" width="4.2" height="4.2"/><rect x="447.42" y="488.60" width="4.2" height="4.2"/><rect x="452.78" y="488.60" width="4.2" height="4.2"/><rect x="458.14" y="488.60" width="4.2" height="4.2"/><rect x="463.50" y="488.60" width="4.2" height="4.2"/><rect x="468.85" y="488.60" width="4.2" height="4.2"/><rect x="474.21" y="488.60" width="4.2" height="4.2"/><rect x="479.57" y="488.60" width="4.2" height="4.2"/><rect x="484.92" y="488.60" width="4.2" height="4.2"/><rect x="490.28" y="488.60" width="4.2" height="4.2"/><rect x="495.64" y="488.60" width="4.2" height="4.2"/><rect x="501.00" y="488.60" width="4.2" height="4.2"/><rect x="506.35" y="488.60" width="4.2" height="4.2"/><rect x="511.71" y="488.60" width="4.2" height="4.2"/><rect x="517.07" y="488.60" width="4.2" height="4.2"/><rect x="522.42" y="488.60" width="4.2" height="4.2"/><rect x="527.78" y="488.60" width="4.2" height="4.2"/><rect x="533.14" y="488.60" width="4.2" height="4.2"/><rect x="538.49" y="488.60" width="4.2" height="4.2"/><rect x="543.85" y="488.60" width="4.2" height="4.2"/><rect x="549.21" y="488.60" width="4.2" height="4.2"/><rect x="554.56" y="488.60" width="4.2" height="4.2"/><rect x="559.92" y="488.60" width="4.2" height="4.2"/><rect x="565.28" y="488.60" width="4.2" height="4.2"/><rect x="570.64" y="488.60" width="4.2" height="4.2"/><rect x="575.99" y="488.60" width="4.2" height="4.2"/><rect x="581.35" y="488.60" width="4.2" height="4.2"/><rect x="586.71" y="488.60" width="4.2" height="4.2"/><rect x="592.06" y="488.60" width="4.2" height="4.2"/><rect x="597.42" y="488.60" width="4.2" height="4.2"/><rect x="602.78" y="488.60" width="4.2" height="4.2"/><rect x="608.13" y="488.60" width="4.2" height="4.2"/><rect x="613.49" y="488.60" width="4.2" height="4.2"/><rect x="618.85" y="488.60" width="4.2" height="4.2"/><rect x="624.21" y="488.60" width="4.2" height="4.2"/><rect x="629.56" y="488.60" width="4.2" height="4.2"/><rect x="634.92" y="488.60" width="4.2" height="4.2"/><rect x="640.28" y="488.60" width="4.2" height="4.2"/><rect x="645.63" y="488.60" width="4.2" height="4.2"/><rect x="650.99" y="488.60" width="4.2" height="4.2"/><rect x="656.35" y="488.60" width="4.2" height="4.2"/><rect x="661.40" y="488.60" width="4.2" height="4.2"/><rect x="662.88" y="488.60" width="4.2" height="4.2"/><rect x="664.37" y="488.60" width="4.2" height="4.2"/><rect x="665.85" y="488.60" width="4.2" height="4.2"/><rect x="667.33" y="488.60" width="4.2" height="4.2"/><rect x="668.82" y="488.60" width="4.2" height="4.2"/><rect x="670.30" y="488.60" width="4.2" height="4.2"/></g>
<path d="M78.40,27.04 L78.99,27.17 L79.59,27.41 L80.18,27.77 L80.78,28.25 L81.37,28.84 L81.96,29.54 L82.56,30.35 L83.15,31.27 L83.75,32.28 L84.34,33.40 L84.93,34.61 L85.53,35.92 L86.12,37.32 L86.72,38.81 L87.31,40.39 L87.90,42.05 L88.50,43.79 L89.09,45.61 L89.69,47.51 L90.28,49.48 L90.87,51.52 L91.47,53.63 L92.06,55.80 L92.66,58.03 L93.25,60.33 L93.84,62.68 L94.44,65.08 L95.03,67.54 L95.63,70.05 L96.22,72.60 L96.81,75.19 L97.41,77.82 L98.00,80.49 L98.60,83.19 L99.19,85.93 L99.78,88.69 L100.38,91.49 L100.97,94.32 L101.57,97.19 L102.16,100.09 L102.75,103.03 L103.35,106.00 L103.94,109.02 L104.54,112.07 L105.13,115.15 L105.72,118.27 L106.32,121.42 L106.91,124.59 L107.51,127.79 L108.10,131.02 L108.69,134.27 L109.29,137.53 L109.88,140.82 L110.48,144.11 L111.07,147.43 L111.66,150.75 L112.26,154.08 L112.85,157.41 L113.45,160.75 L114.04,164.09 L114.63,167.43 L115.23,170.77 L115.82,174.11 L116.42,177.43 L117.01,180.76 L117.60,184.07 L118.20,187.38 L118.79,190.69 L119.39,193.98 L119.98,197.26 L120.57,200.53 L121.17,203.80 L121.76,207.05 L122.36,210.28 L122.95,213.51 L123.54,216.72 L124.14,219.91 L124.73,223.09 L125.33,226.25 L125.92,229.40 L126.51,232.52 L127.11,235.64 L127.70,238.73 L128.30,241.81 L128.89,244.86 L129.48,247.90 L130.08,250.93 L130.67,253.93 L131.27,256.91 L131.86,259.88 L132.45,262.83 L133.05,265.76 L133.64,268.66 L134.24,271.55 L134.83,274.42 L135.42,277.27 L136.02,280.10 L136.61,282.91 L137.21,285.70 L137.80,288.47 L138.39,291.21 L138.99,293.94 L139.58,296.64 L140.18,299.33 L140.77,301.99 L141.36,304.63 L141.96,307.25 L142.55,309.84 L143.15,312.41 L143.74,314.96 L144.33,317.49 L144.93,320.00 L145.52,322.48 L146.12,324.94 L146.71,327.37 L147.30,329.78 L147.90,332.17 L148.49,334.53 L149.09,336.87 L149.68,339.19 L150.27,341.48 L150.87,343.75 L151.46,346.00 L152.06,348.22 L152.65,350.42 L153.24,352.60 L153.84,354.75 L154.43,356.89 L155.03,359.00 L155.62,361.09 L156.21,363.16 L156.81,365.20 L157.40,367.23 L158.00,369.23 L158.59,371.21 L159.18,373.17 L159.78,375.11 L160.37,377.03 L160.97,378.93 L161.56,380.81 L162.15,382.67 L162.75,384.50 L163.34,386.32 L163.94,388.12 L164.53,389.90 L165.12,391.66 L165.72,393.40 L166.31,395.12 L166.91,396.82 L167.50,398.50 L168.09,400.17 L168.69,401.81 L169.28,403.44 L169.88,405.05 L170.47,406.64 L171.06,408.21 L171.66,409.77 L172.25,411.31 L172.85,412.83 L173.44,414.33 L174.03,415.82 L174.63,417.28 L175.22,418.74 L175.82,420.17 L176.41,421.59 L177.00,422.99 L177.60,424.38 L178.19,425.75 L178.79,427.10 L179.38,428.44 L179.97,429.77 L180.57,431.07 L181.16,432.37 L181.76,433.64 L182.35,434.91 L182.94,436.15 L183.54,437.39 L184.13,438.61 L184.73,439.81 L185.32,441.00 L185.91,442.18 L186.51,443.34 L187.10,444.49 L187.70,445.62 L188.29,446.74 L188.88,447.85 L189.48,448.95 L190.07,450.03 L190.67,451.10 L191.26,452.15 L191.85,453.20 L192.45,454.23 L193.04,455.25 L193.64,456.26 L194.23,457.25 L194.82,458.24 L195.42,459.21 L196.01,460.17 L196.61,461.12 L197.20,462.06 L197.79,462.99 L198.39,463.91 L198.98,464.82 L199.58,465.71 L200.17,466.60 L200.76,467.47 L201.36,468.34 L201.95,469.20 L202.55,470.04 L203.14,470.88 L203.73,471.71 L204.33,472.53 L204.92,473.34 L205.52,474.14 L206.11,474.93 L206.70,475.71 L207.30,476.49 L207.89,477.25 L208.49,478.01 L209.08,478.76 L209.67,479.51 L210.27,480.24 L210.86,480.97 L211.46,481.69 L212.05,482.40 L212.64,483.11 L213.24,483.81 L213.83,484.50 L214.43,485.19 L215.02,485.87 L215.61,486.54 L216.21,487.21 L216.80,487.87 L217.40,488.53 L217.99,489.18 L218.58,489.82 L219.18,490.46 L219.77,490.70 L220.37,490.70 L220.96,490.70 L221.55,490.70 L222.15,490.70 L222.74,490.70 L223.34,490.70 L223.93,490.70 L224.52,490.70 L225.12,490.70 L225.71,490.70 L226.31,490.70 L226.90,490.70 L227.49,490.70 L228.09,490.70 L228.68,490.70 L229.28,490.70 L229.87,490.70 L230.46,490.70 L231.06,490.70 L231.65,490.70 L232.25,490.70 L232.84,490.70 L233.43,490.70 L234.03,490.70 L234.62,490.70 L235.22,490.70 L235.81,490.70 L236.40,490.70 L237.00,490.70 L237.59,490.70 L238.19,490.70 L238.78,490.70 L239.37,490.70 L239.97,490.70 L240.56,490.70 L241.16,490.70 L241.75,490.70 L242.34,490.70 L242.94,490.70 L243.53,490.70 L244.13,490.70 L244.72,490.70 L245.31,490.70 L245.91,490.70 L246.50,490.70 L247.10,490.70 L247.69,490.70 L248.28,490.70 L248.88,490.70 L249.47,490.70 L250.07,490.70 L250.66,490.70 L251.25,490.70 L251.85,490.70 L252.44,490.70 L253.04,490.70 L253.63,490.70 L254.22,490.70 L254.82,490.70 L255.41,490.70 L256.01,490.70 L256.60,490.70 L257.19,490.70 L257.79,490.70 L258.38,490.70 L258.98,490.70 L259.57,490.70 L260.16,490.70 L260.76,490.70 L261.35,490.70 L261.95,490.70 L262.54,490.70 L263.13,490.70 L263.73,490.70 L264.32,490.70 L264.92,490.70 L265.51,490.70 L266.10,490.70 L266.70,490.70 L267.29,490.70 L267.89,490.70 L268.48,490.70 L269.07,490.70 L269.67,490.70 L270.26,490.70 L270.86,490.70 L271.45,490.70 L272.04,490.70 L272.64,490.70 L273.23,490.70 L273.83,490.70 L274.42,490.70 L275.01,490.70 L275.61,490.70 L276.20,490.70 L276.80,490.70 L277.39,490.70 L277.98,490.70 L278.58,490.70 L279.17,490.70 L279.77,490.70 L280.36,490.70 L280.95,490.70 L281.55,490.70 L282.14,490.70 L282.74,490.70 L283.33,490.70 L283.92,490.70 L284.52,490.70 L285.11,490.70 L285.71,490.70 L286.30,490.70 L286.89,490.70 L287.49,490.70 L288.08,490.70 L288.68,490.70 L289.27,490.70 L289.86,490.70 L290.46,490.70 L291.05,490.70 L291.65,490.70 L292.24,490.70 L292.83,490.70 L293.43,490.70 L294.02,490.70 L294.62,490.70 L295.21,490.70 L295.80,490.70 L296.40,490.70 L296.99,490.70 L297.59,490.70 L298.18,490.70 L298.77,490.70 L299.37,490.70 L299.96,490.70 L300.56,490.70 L301.15,490.70 L301.74,490.70 L302.34,490.70 L302.93,490.70 L303.53,490.70 L304.12,490.70 L304.71,490.70 L305.31,490.70 L305.90,490.70 L306.50,490.70 L307.09,490.70 L307.68,490.70 L308.28,490.70 L308.87,490.70 L309.47,490.70 L310.06,490.70 L310.65,490.70 L311.25,490.70 L311.84,490.70 L312.44,490.70 L313.03,490.70 L313.62,490.70 L314.22,490.70 L314.81,490.70 L315.41,490.70 L316.00,490.70 L316.59,490.70 L317.19,490.70 L317.78,490.70 L318.38,490.70 L318.97,490.70 L319.56,490.70 L320.16,490.70 L320.75,490.70 L321.35,490.70 L321.94,490.70 L322.53,490.70 L323.13,490.70 L323.72,490.70 L324.32,490.70 L324.91,490.70 L325.50,490.70 L326.10,490.70 L326.69,490.70 L327.29,490.70 L327.88,490.70 L328.47,490.70 L329.07,490.70 L329.66,490.70 L330.26,490.70 L330.85,490.70 L331.44,490.70 L332.04,490.70 L332.63,490.70 L333.23,490.70 L333.82,490.70 L334.41,490.70 L335.01,490.70 L335.60,490.70 L336.20,490.70 L336.79,490.70 L337.38,490.70 L337.98,490.70 L338.57,490.70 L339.17,490.70 L339.76,490.70 L340.35,490.70 L340.95,490.70 L341.54,490.70 L342.14,490.70 L342.73,490.70 L343.32,490.70 L343.92,490.70 L344.51,490.70 L345.11,490.70 L345.70,490.70 L346.29,490.70 L346.89,490.70 L347.48,490.70 L348.08,490.70 L348.67,490.70 L349.26,490.70 L349.86,490.70 L350.45,490.70 L351.05,490.70 L351.64,490.70 L352.23,490.70 L352.83,490.70 L353.42,490.70 L354.02,490.70 L354.61,490.70 L355.20,490.70 L355.80,490.70 L356.39,490.70 L356.99,490.70 L357.58,490.70 L358.17,490.70 L358.77,490.70 L359.36,490.70 L359.96,490.70 L360.55,490.70 L361.14,490.70 L361.74,490.70 L362.33,490.70 L362.93,490.70 L363.52,490.70 L364.11,490.70 L364.71,490.70 L365.30,490.70 L365.90,490.70 L366.49,490.70 L367.08,490.70 L367.68,490.70 L368.27,490.70 L368.87,490.70 L369.46,490.70 L370.05,490.70 L370.65,490.70 L371.24,490.70 L371.84,490.70 L372.43,490.70 L373.02,490.70 L373.62,490.70 L374.21,490.70 L374.81,490.70 L375.40,490.70 L375.99,490.70 L376.59,490.70 L377.18,490.70 L377.78,490.70 L378.37,490.70 L378.96,490.70 L379.56,490.70 L380.15,490.70 L380.75,490.70 L381.34,490.70 L381.93,490.70 L382.53,490.70 L383.12,490.70 L383.72,490.70 L384.31,490.70 L384.90,490.70 L385.50,490.70 L386.09,490.70 L386.69,490.70 L387.28,490.70 L387.87,490.70 L388.47,490.70 L389.06,490.70 L389.66,490.70 L390.25,490.70 L390.84,490.70 L391.44,490.70 L392.03,490.70 L392.63,490.70 L393.22,490.70 L393.81,490.70 L394.41,490.70 L395.00,490.70 L395.60,490.70 L396.19,490.70 L396.78,490.70 L397.38,490.70 L397.97,490.70 L398.57,490.70 L399.16,490.70 L399.75,490.70 L400.35,490.70 L400.94,490.70 L401.54,490.70 L402.13,490.70 L402.72,490.70 L403.32,490.70 L403.91,490.70 L404.51,490.70 L405.10,490.70 L405.69,490.70 L406.29,490.70 L406.88,490.70 L407.48,490.70 L408.07,490.70 L408.66,490.70 L409.26,490.70 L409.85,490.70 L410.45,490.70 L411.04,490.70 L411.63,490.70 L412.23,490.70 L412.82,490.70 L413.42,490.70 L414.01,490.70 L414.60,490.70 L415.20,490.70 L415.79,490.70 L416.39,490.70 L416.98,490.70 L417.57,490.70 L418.17,490.70 L418.76,490.70 L419.36,490.70 L419.95,490.70 L420.54,490.70 L421.14,490.70 L421.73,490.70 L422.33,490.70 L422.92,490.70 L423.51,490.70 L424.11,490.70 L424.70,490.70 L425.30,490.70 L425.89,490.70 L426.48,490.70 L427.08,490.70 L427.67,490.70 L428.27,490.70 L428.86,490.70 L429.45,490.70 L430.05,490.70 L430.64,490.70 L431.24,490.70 L431.83,490.70 L432.42,490.70 L433.02,490.70 L433.61,490.70 L434.21,490.70 L434.80,490.70 L435.39,490.70 L435.99,490.70 L436.58,490.70 L437.18,490.70 L437.77,490.70 L438.36,490.70 L438.96,490.70 L439.55,490.70 L440.15,490.70 L440.74,490.70 L441.33,490.70 L441.93,490.70 L442.52,490.70 L443.12,490.70 L443.71,490.70 L444.30,490.70 L444.90,490.70 L445.49,490.70 L446.09,490.70 L446.68,490.70 L447.27,490.70 L447.87,490.70 L448.46,490.70 L449.06,490.70 L449.65,490.70 L450.24,490.70 L450.84,490.70 L451.43,490.70 L452.03,490.70 L452.62,490.70 L453.21,490.70 L453.81,490.70 L454.40,490.70 L455.00,490.70 L455.59,490.70 L456.18,490.70 L456.78,490.70 L457.37,490.70 L457.97,490.70 L458.56,490.70 L459.15,490.70 L459.75,490.70 L460.34,490.70 L460.94,490.70 L461.53,490.70 L462.12,490.70 L462.72,490.70 L463.31,490.70 L463.91,490.70 L464.50,490.70 L465.09,490.70 L465.69,490.70 L466.28,490.70 L466.88,490.70 L467.47,490.70 L468.06,490.70 L468.66,490.70 L469.25,490.70 L469.85,490.70 L470.44,490.70 L471.03,490.70 L471.63,490.70 L472.22,490.70 L472.82,490.70 L473.41,490.70 L474.00,490.70 L474.60,490.70 L475.19,490.70 L475.79,490.70 L476.38,490.70 L476.97,490.70 L477.57,490.70 L478.16,490.70 L478.76,490.70 L479.35,490.70 L479.94,490.70 L480.54,490.70 L481.13,490.70 L481.73,490.70 L482.32,490.70 L482.91,490.70 L483.51,490.70 L484.10,490.70 L484.70,490.70 L485.29,490.70 L485.88,490.70 L486.48,490.70 L487.07,490.70 L487.67,490.70 L488.26,490.70 L488.85,490.70 L489.45,490.70 L490.04,490.70 L490.64,490.70 L491.23,490.70 L491.82,490.70 L492.42,490.70 L493.01,490.70 L493.61,490.70 L494.20,490.70 L494.79,490.70 L495.39,490.70 L495.98,490.70 L496.58,490.70 L497.17,490.70 L497.76,490.70 L498.36,490.70 L498.95,490.70 L499.55,490.70 L500.14,490.70 L500.73,490.70 L501.33,490.70 L501.92,490.70 L502.52,490.70 L503.11,490.70 L503.70,490.70 L504.30,490.70 L504.89,490.70 L505.49,490.70 L506.08,490.70 L506.67,490.70 L507.27,490.70 L507.86,490.70 L508.46,490.70 L509.05,490.70 L509.64,490.70 L510.24,490.70 L510.83,490.70 L511.43,490.70 L512.02,490.70 L512.61,490.70 L513.21,490.70 L513.80,490.70 L514.40,490.70 L514.99,490.70 L515.58,490.70 L516.18,490.70 L516.77,490.70 L517.37,490.70 L517.96,490.70 L518.55,490.70 L519.15,490.70 L519.74,490.70 L520.34,490.70 L520.93,490.70 L521.52,490.70 L522.12,490.70 L522.71,490.70 L523.31,490.70 L523.90,490.70 L524.49,490.70 L525.09,490.70 L525.68,490.70 L526.28,490.70 L526.87,490.70 L527.46,490.70 L528.06,490.70 L528.65,490.70 L529.25,490.70 L529.84,490.70 L530.43,490.70 L531.03,490.70 L531.62,490.70 L532.22,490.70 L532.81,490.70 L533.40,490.70 L534.00,490.70 L534.59,490.70 L535.19,490.70 L535.78,490.70 L536.37,490.70 L536.97,490.70 L537.56,490.70 L538.16,490.70 L538.75,490.70 L539.34,490.70 L539.94,490.70 L540.53,490.70 L541.13,490.70 L541.72,490.70 L542.31,490.70 L542.91,490.70 L543.50,490.70 L544.10,490.70 L544.69,490.70 L545.28,490.70 L545.88,490.70 L546.47,490.70 L547.07,490.70 L547.66,490.70 L548.25,490.70 L548.85,490.70 L549.44,490.70 L550.04,490.70 L550.63,490.70 L551.22,490.70 L551.82,490.70 L552.41,490.70 L553.01,490.70 L553.60,490.70 L554.19,490.70 L554.79,490.70 L555.38,490.70 L555.98,490.70 L556.57,490.70 L557.16,490.70 L557.76,490.70 L558.35,490.70 L558.95,490.70 L559.54,490.70 L560.13,490.70 L560.73,490.70 L561.32,490.70 L561.92,490.70 L562.51,490.70 L563.10,490.70 L563.70,490.70 L564.29,490.70 L564.89,490.70 L565.48,490.70 L566.07,490.70 L566.67,490.70 L567.26,490.70 L567.86,490.70 L568.45,490.70 L569.04,490.70 L569.64,490.70 L570.23,490.70 L570.83,490.70 L571.42,490.70 L572.01,490.70 L572.61,490.70 L573.20,490.70 L573.80,490.70 L574.39,490.70 L574.98,490.70 L575.58,490.70 L576.17,490.70 L576.77,490.70 L577.36,490.70 L577.95,490.70 L578.55,490.70 L579.14,490.70 L579.74,490.70 L580.33,490.70 L580.92,490.70 L581.52,490.70 L582.11,490.70 L582.71,490.70 L583.30,490.70 L583.89,490.70 L584.49,490.70 L585.08,490.70 L585.68,490.70 L586.27,490.70 L586.86,490.70 L587.46,490.70 L588.05,490.70 L588.65,490.70 L589.24,490.70 L589.83,490.70 L590.43,490.70 L591.02,490.70 L591.62,490.70 L592.21,490.70 L592.80,490.70 L593.40,490.70 L593.99,490.70 L594.59,490.70 L595.18,490.70 L595.77,490.70 L596.37,490.70 L596.96,490.70 L597.56,490.70 L598.15,490.70 L598.74,490.70 L599.34,490.70 L599.93,490.70 L600.53,490.70 L601.12,490.70 L601.71,490.70 L602.31,490.70 L602.90,490.70 L603.50,490.70 L604.09,490.70 L604.68,490.70 L605.28,490.70 L605.87,490.70 L606.47,490.70 L607.06,490.70 L607.65,490.70 L608.25,490.70 L608.84,490.70 L609.44,490.70 L610.03,490.70 L610.62,490.70 L611.22,490.70 L611.81,490.70 L612.41,490.70 L613.00,490.70 L613.59,490.70 L614.19,490.70 L614.78,490.70 L615.38,490.70 L615.97,490.70 L616.56,490.70 L617.16,490.70 L617.75,490.70 L618.35,490.70 L618.94,490.70 L619.53,490.70 L620.13,490.70 L620.72,490.70 L621.32,490.70 L621.91,490.70 L622.50,490.70 L623.10,490.70 L623.69,490.70 L624.29,490.70 L624.88,490.70 L625.47,490.70 L626.07,490.70 L626.66,490.70 L627.26,490.70 L627.85,490.70 L628.44,490.70 L629.04,490.70 L629.63,490.70 L630.23,490.70 L630.82,490.70 L631.41,490.70 L632.01,490.70 L632.60,490.70 L633.20,490.70 L633.79,490.70 L634.38,490.70 L634.98,490.70 L635.57,490.70 L636.17,490.70 L636.76,490.70 L637.35,490.70 L637.95,490.70 L638.54,490.70 L639.14,490.70 L639.73,490.70 L640.32,490.70 L640.92,490.70 L641.51,490.70 L642.11,490.70 L642.70,490.70 L643.29,490.70 L643.89,490.70 L644.48,490.70 L645.08,490.70 L645.67,490.70 L646.26,490.70 L646.86,490.70 L647.45,490.70 L648.05,490.70 L648.64,490.70 L649.23,490.70 L649.83,490.70 L650.42,490.70 L651.02,490.70 L651.61,490.70 L652.20,490.70 L652.80,490.70 L653.39,490.70 L653.99,490.70 L654.58,490.70 L655.17,490.70 L655.77,490.70 L656.36,490.70 L656.96,490.70 L657.55,490.70 L658.14,490.70 L658.74,490.70 L659.33,490.70 L659.93,490.70 L660.52,490.70 L661.11,490.70 L661.71,490.70 L662.30,490.70 L662.90,490.70 L663.49,490.70 L664.08,490.70 L664.68,490.70 L665.27,490.70 L665.87,490.70 L666.46,490.70 L667.05,490.70 L667.65,490.70 L668.24,490.70 L668.84,490.70 L669.43,490.70 L670.02,490.70 L670.62,490.70 L671.21,490.70 L671.81,490.70 L672.40,490.70" fill="none" stroke="#008000" stroke-width="1.6" stroke-dasharray="11 6.5"/>
<g fill="none" stroke="#008000" stroke-width="1.3"><circle cx="78.40" cy="27.04" r="2.7"/><circle cx="78.99" cy="27.17" r="2.7"/><circle cx="79.59" cy="27.41" r="2.7"/><circle cx="80.48" cy="27.99" r="2.7"/><circle cx="81.37" cy="28.84" r="2.7"/><circle cx="82.56" cy="30.35" r="2.7"/><circle cx="83.81" cy="32.39" r="2.7"/><circle cx="88.70" cy="44.40" r="2.7"/><circle cx="93.70" cy="62.10" r="2.7"/><circle cx="98.20" cy="81.39" r="2.7"/><circle cx="103.50" cy="106.77" r="2.7"/><circle cx="109.00" cy="135.95" r="2.7"/><circle cx="114.70" cy="167.80" r="2.7"/><circle cx="120.50" cy="200.13" r="2.7"/><circle cx="126.60" cy="232.98" r="2.7"/><circle cx="132.10" cy="261.07" r="2.7"/><circle cx="137.90" cy="288.93" r="2.7"/><circle cx="143.80" cy="315.22" r="2.7"/><circle cx="149.20" cy="337.32" r="2.7"/><circle cx="154.85" cy="358.38" r="2.7"/><circle cx="160.30" cy="376.80" r="2.7"/><circle cx="165.70" cy="393.35" r="2.7"/><circle cx="171.00" cy="408.05" r="2.7"/><circle cx="176.30" cy="421.33" r="2.7"/><circle cx="182.00" cy="434.16" r="2.7"/><circle cx="187.60" cy="445.44" r="2.7"/><circle cx="193.10" cy="455.35" r="2.7"/><circle cx="198.40" cy="463.93" r="2.7"/><circle cx="203.70" cy="471.66" r="2.7"/><circle cx="209.00" cy="478.66" r="2.7"/><circle cx="214.30" cy="485.04" r="2.7"/><circle cx="219.17" cy="490.46" r="2.7"/><circle cx="224.53" cy="490.70" r="2.7"/><circle cx="229.89" cy="490.70" r="2.7"/><circle cx="235.25" cy="490.70" r="2.7"/><circle cx="240.60" cy="490.70" r="2.7"/><circle cx="245.96" cy="490.70" r="2.7"/><circle cx="251.32" cy="490.70" r="2.7"/><circle cx="256.67" cy="490.70" r="2.7"/><circle cx="262.03" cy="490.70" r="2.7"/><circle cx="267.39" cy="490.70" r="2.7"/><circle cx="272.74" cy="490.70" r="2.7"/><circle cx="278.10" cy="490.70" r="2.7"/><circle cx="283.46" cy="490.70" r="2.7"/><circle cx="288.81" cy="490.70" r="2.7"/><circle cx="294.17" cy="490.70" r="2.7"/><circle cx="299.53" cy="490.70" r="2.7"/><circle cx="304.89" cy="490.70" r="2.7"/><circle cx="310.24" cy="490.70" r="2.7"/><circle cx="315.60" cy="490.70" r="2.7"/><circle cx="320.96" cy="490.70" r="2.7"/><circle cx="326.31" cy="490.70" r="2.7"/><circle cx="331.67" cy="490.70" r="2.7"/><circle cx="337.03" cy="490.70" r="2.7"/><circle cx="342.38" cy="490.70" r="2.7"/><circle cx="347.74" cy="490.70" r="2.7"/><circle cx="353.10" cy="490.70" r="2.7"/><circle cx="358.46" cy="490.70" r="2.7"/><circle cx="363.81" cy="490.70" r="2.7"/><circle cx="369.17" cy="490.70" r="2.7"/><circle cx="374.53" cy="490.70" r="2.7"/><circle cx="379.88" cy="490.70" r="2.7"/><circle cx="385.24" cy="490.70" r="2.7"/><circle cx="390.60" cy="490.70" r="2.7"/><circle cx="395.96" cy="490.70" r="2.7"/><circle cx="401.31" cy="490.70" r="2.7"/><circle cx="406.67" cy="490.70" r="2.7"/><circle cx="412.03" cy="490.70" r="2.7"/><circle cx="417.38" cy="490.70" r="2.7"/><circle cx="422.74" cy="490.70" r="2.7"/><circle cx="428.10" cy="490.70" r="2.7"/><circle cx="433.45" cy="490.70" r="2.7"/><circle cx="438.81" cy="490.70" r="2.7"/><circle cx="444.17" cy="490.70" r="2.7"/><circle cx="449.52" cy="490.70" r="2.7"/><circle cx="454.88" cy="490.70" r="2.7"/><circle cx="460.24" cy="490.70" r="2.7"/><circle cx="465.60" cy="490.70" r="2.7"/><circle cx="470.95" cy="490.70" r="2.7"/><circle cx="476.31" cy="490.70" r="2.7"/><circle cx="481.67" cy="490.70" r="2.7"/><circle cx="487.02" cy="490.70" r="2.7"/><circle cx="492.38" cy="490.70" r="2.7"/><circle cx="497.74" cy="490.70" r="2.7"/><circle cx="503.10" cy="490.70" r="2.7"/><circle cx="508.45" cy="490.70" r="2.7"/><circle cx="513.81" cy="490.70" r="2.7"/><circle cx="519.17" cy="490.70" r="2.7"/><circle cx="524.52" cy="490.70" r="2.7"/><circle cx="529.88" cy="490.70" r="2.7"/><circle cx="535.24" cy="490.70" r="2.7"/><circle cx="540.59" cy="490.70" r="2.7"/><circle cx="545.95" cy="490.70" r="2.7"/><circle cx="551.31" cy="490.70" r="2.7"/><circle cx="556.66" cy="490.70" r="2.7"/><circle cx="562.02" cy="490.70" r="2.7"/><circle cx="567.38" cy="490.70" r="2.7"/><circle cx="572.74" cy="490.70" r="2.7"/><circle cx="578.09" cy="490.70" r="2.7"/><circle cx="583.45" cy="490.70" r="2.7"/><circle cx="588.81" cy="490.70" r="2.7"/><circle cx="594.16" cy="490.70" r="2.7"/><circle cx="599.52" cy="490.70" r="2.7"/><circle cx="604.88" cy="490.70" r="2.7"/><circle cx="610.24" cy="490.70" r="2.7"/><circle cx="615.59" cy="490.70" r="2.7"/><circle cx="620.95" cy="490.70" r="2.7"/><circle cx="626.31" cy="490.70" r="2.7"/><circle cx="631.66" cy="490.70" r="2.7"/><circle cx="637.02" cy="490.70" r="2.7"/><circle cx="642.38" cy="490.70" r="2.7"/><circle cx="647.73" cy="490.70" r="2.7"/><circle cx="653.09" cy="490.70" r="2.7"/><circle cx="658.45" cy="490.70" r="2.7"/><circle cx="663.50" cy="490.70" r="2.7"/><circle cx="664.98" cy="490.70" r="2.7"/><circle cx="666.47" cy="490.70" r="2.7"/><circle cx="667.95" cy="490.70" r="2.7"/><circle cx="669.43" cy="490.70" r="2.7"/><circle cx="670.92" cy="490.70" r="2.7"/><circle cx="672.40" cy="490.70" r="2.7"/></g>
<g font-family="Liberation Sans, Arial, sans-serif" font-size="22" fill="#262626"><text transform="translate(78.40,520.7) scale(1,1.035)" text-anchor="middle">0</text><text transform="translate(137.80,520.7) scale(1,1.035)" text-anchor="middle">1</text><text transform="translate(197.20,520.7) scale(1,1.035)" text-anchor="middle">2</text><text transform="translate(256.60,520.7) scale(1,1.035)" text-anchor="middle">3</text><text transform="translate(316.00,520.7) scale(1,1.035)" text-anchor="middle">4</text><text transform="translate(375.40,520.7) scale(1,1.035)" text-anchor="middle">5</text><text transform="translate(434.80,520.7) scale(1,1.035)" text-anchor="middle">6</text><text transform="translate(494.20,520.7) scale(1,1.035)" text-anchor="middle">7</text><text transform="translate(553.60,520.7) scale(1,1.035)" text-anchor="middle">8</text><text transform="translate(613.00,520.7) scale(1,1.035)" text-anchor="middle">9</text><text transform="translate(672.40,520.7) scale(1,1.035)" text-anchor="middle">10</text><text transform="translate(71.4,500.10) scale(1,1.035)" text-anchor="end">0</text><text transform="translate(71.4,446.56) scale(1,1.035)" text-anchor="end">0.1</text><text transform="translate(71.4,393.02) scale(1,1.035)" text-anchor="end">0.2</text><text transform="translate(71.4,339.48) scale(1,1.035)" text-anchor="end">0.3</text><text transform="translate(71.4,285.94) scale(1,1.035)" text-anchor="end">0.4</text><text transform="translate(71.4,232.40) scale(1,1.035)" text-anchor="end">0.5</text><text transform="translate(71.4,178.86) scale(1,1.035)" text-anchor="end">0.6</text><text transform="translate(71.4,125.32) scale(1,1.035)" text-anchor="end">0.7</text><text transform="translate(71.4,71.78) scale(1,1.035)" text-anchor="end">0.8</text><text transform="translate(71.4,18.24) scale(1,1.035)" text-anchor="end">0.9</text></g>
<text transform="matrix(0.3238,0,0,0.3187,357.43,556.68)" font-family="Liberation Serif, serif" font-style="italic" font-size="100" fill="#000">ω</text>
<text transform="matrix(0.4192,0,0,0.3912,379.72,557.01)" font-family="Liberation Serif, serif" font-style="italic" font-size="100" fill="#000">t</text>
<text transform="translate(28.0,263.0) rotate(-90) scale(0.3556,0.3718)" font-family="Liberation Sans, Arial, sans-serif" font-size="100" fill="#262626">C</text>
<rect x="473.8" y="20.5" width="186.6" height="153.7" fill="#fff" stroke="#555" stroke-width="1"/>
<path d="M477.8,37.30 H521.7" stroke="#000" stroke-width="1.6" fill="none"/>
<text transform="matrix(0.2925,0,0,0.2478,525.41,43.50)" font-family="Liberation Serif, serif" font-style="italic" font-size="100" fill="#000">γ</text>
<text transform="matrix(0.1966,0,0,0.1892,538.20,47.40)" font-family="Liberation Serif, serif" font-style="italic" font-size="100" fill="#000">B</text>
<text transform="matrix(0.2269,0,0,0.1780,550.25,46.76)" font-family="Liberation Serif, serif" font-style="italic" font-size="100" fill="#000">β</text>
<text transform="matrix(0.3571,0,0,0.3712,564.70,49.23)" font-family="Liberation Serif, serif" font-size="100" fill="#000">/</text>
<text transform="matrix(0.2524,0,0,0.2458,574.84,43.75)" font-family="Liberation Serif, serif" font-style="italic" font-size="100" fill="#000">ω</text>
<text transform="matrix(0.3745,0,0,0.2920,597.73,47.03)" font-family="Liberation Serif, serif" font-size="100" fill="#000">=</text>
<text transform="matrix(0.2548,0,0,0.2642,624.18,43.77)" font-family="Liberation Serif, serif" font-size="100" fill="#000">0</text>
<path d="M477.8,67.45 H521.7" stroke="#0000ff" stroke-width="1.6" stroke-dasharray="8.8 3.4 2 3.3" fill="none"/>
<text transform="matrix(0.2925,0,0,0.2478,525.41,73.65)" font-family="Liberation Serif, serif" font-style="italic" font-size="100" fill="#000">γ</text>
<text transform="matrix(0.1966,0,0,0.1892,538.20,77.55)" font-family="Liberation Serif, serif" font-style="italic" font-size="100" fill="#000">B</text>
<text transform="matrix(0.2269,0,0,0.1780,550.25,76.91)" font-family="Liberation Serif, serif" font-style="italic" font-size="100" fill="#000">β</text>
<text transform="matrix(0.3571,0,0,0.3712,564.70,79.38)" font-family="Liberation Serif, serif" font-size="100" fill="#000">/</text>
<text transform="matrix(0.2524,0,0,0.2458,574.84,73.90)" font-family="Liberation Serif, serif" font-style="italic" font-size="100" fill="#000">ω</text>
<text transform="matrix(0.3745,0,0,0.2920,597.73,77.18)" font-family="Liberation Serif, serif" font-size="100" fill="#000">=</text>
<text transform="matrix(0.2548,0,0,0.2642,624.18,73.92)" font-family="Liberation Serif, serif" font-size="100" fill="#000">0.1</text>
<path d="M477.8,97.60 H521.7" stroke="#ff0000" stroke-width="1.6" stroke-dasharray="11 6.5" fill="none"/>
<text transform="matrix(0.2925,0,0,0.2478,525.41,103.80)" font-family="Liberation Serif, serif" font-style="italic" font-size="100" fill="#000">γ</text>
<text transform="matrix(0.1966,0,0,0.1892,538.20,107.70)" font-family="Liberation Serif, serif" font-style="italic" font-size="100" fill="#000">B</text>
<text transform="matrix(0.2269,0,0,0.1780,550.25,107.06)" font-family="Liberation Serif, serif" font-style="italic" font-size="100" fill="#000">β</text>
<text transform="matrix(0.3571,0,0,0.3712,564.70,109.53)" font-family="Liberation Serif, serif" font-size="100" fill="#000">/</text>
<text transform="matrix(0.2524,0,0,0.2458,574.84,104.05)" font-family="Liberation Serif, serif" font-style="italic" font-size="100" fill="#000">ω</text>
<text transform="matrix(0.3745,0,0,0.2920,597.73,107.33)" font-family="Liberation Serif, serif" font-size="100" fill="#000">=</text>
<text transform="matrix(0.2548,0,0,0.2642,624.18,104.07)" font-family="Liberation Serif, serif" font-size="100" fill="#000">0.2</text>
<path d="M477.8,127.75 H521.7" stroke="#7e2f8e" stroke-width="1.6" fill="none"/>
<rect x="497.60" y="125.65" width="4.2" height="4.2" fill="none" stroke="#7e2f8e" stroke-width="1.4"/>
<text transform="matrix(0.2925,0,0,0.2478,525.41,133.95)" font-family="Liberation Serif, serif" font-style="italic" font-size="100" fill="#000">γ</text>
<text transform="matrix(0.1966,0,0,0.1892,538.20,137.85)" font-family="Liberation Serif, serif" font-style="italic" font-size="100" fill="#000">B</text>
<text transform="matrix(0.2269,0,0,0.1780,550.25,137.21)" font-family="Liberation Serif, serif" font-style="italic" font-size="100" fill="#000">β</text>
<text transform="matrix(0.3571,0,0,0.3712,564.70,139.68)" font-family="Liberation Serif, serif" font-size="100" fill="#000">/</text>
<text transform="matrix(0.2524,0,0,0.2458,574.84,134.20)" font-family="Liberation Serif, serif" font-style="italic" font-size="100" fill="#000">ω</text>
<text transform="matrix(0.3745,0,0,0.2920,597.73,137.48)" font-family="Liberation Serif, serif" font-size="100" fill="#000">=</text>
<text transform="matrix(0.2548,0,0,0.2642,624.18,134.22)" font-family="Liberation Serif, serif" font-size="100" fill="#000">0.5</text>
<path d="M477.8,157.90 H521.7" stroke="#008000" stroke-width="1.6" stroke-dasharray="11 6.5" fill="none"/>
<circle cx="499.7" cy="157.90" r="2.7" fill="none" stroke="#008000" stroke-width="1.4"/>
<text transform="matrix(0.2925,0,0,0.2478,525.41,164.10)" font-family="Liberation Serif, serif" font-style="italic" font-size="100" fill="#000">γ</text>
<text transform="matrix(0.1966,0,0,0.1892,538.20,168.00)" font-family="Liberation Serif, serif" font-style="italic" font-size="100" fill="#000">B</text>
<text transform="matrix(0.2269,0,0,0.1780,550.25,167.36)" font-family="Liberation Serif, serif" font-style="italic" font-size="100" fill="#000">β</text>
<text transform="matrix(0.3571,0,0,0.3712,564.70,169.83)" font-family="Liberation Serif, serif" font-size="100" fill="#000">/</text>
<text transform="matrix(0.2524,0,0,0.2458,574.84,164.35)" font-family="Liberation Serif, serif" font-style="italic" font-size="100" fill="#000">ω</text>
<text transform="matrix(0.3745,0,0,0.2920,597.73,167.63)" font-family="Liberation Serif, serif" font-size="100" fill="#000">=</text>
<text transform="matrix(0.2548,0,0,0.2642,624.18,164.37)" font-family="Liberation Serif, serif" font-size="100" fill="#000">1</text>
</svg>
</body></html>
